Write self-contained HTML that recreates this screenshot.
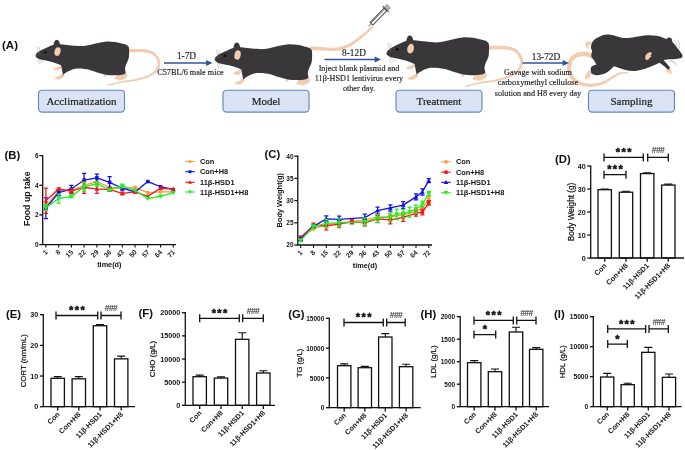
<!DOCTYPE html>
<html><head><meta charset="utf-8"><title>Figure</title>
<style>html,body{margin:0;padding:0;background:#fff;}body{width:685px;height:450px;overflow:hidden;font-family:"Liberation Sans", sans-serif;}svg{display:block;filter:blur(0.4px)}</style>
</head><body>
<svg width="685" height="450" viewBox="0 0 685 450" font-family='"Liberation Sans", sans-serif' fill="#111">
<rect width="685" height="450" fill="#fff"/>
<g transform="translate(0.00 0.00) scale(1 1)">
<path d="M128.04 52.40 L128.43 52.39 L128.93 52.37 L129.50 52.35 L130.15 52.33 L130.85 52.31 L131.59 52.28 L132.35 52.26 L133.13 52.24 L133.90 52.22 L134.64 52.20 L135.35 52.18 L136.02 52.17 L136.65 52.16 L137.28 52.15 L137.90 52.13 L138.49 52.11 L139.08 52.10 L139.66 52.08 L140.24 52.08 L140.81 52.08 L141.38 52.09 L141.95 52.12 L142.53 52.16 L143.13 52.21 L143.77 52.28 L144.44 52.36 L145.11 52.44 L145.79 52.53 L146.47 52.63 L147.15 52.74 L147.81 52.87 L148.45 53.00 L149.07 53.16 L149.65 53.33 L150.19 53.52 L150.70 53.72 L151.18 53.95 L151.66 54.21 L152.13 54.49 L152.58 54.79 L153.02 55.10 L153.44 55.44 L153.85 55.78 L154.24 56.15 L154.60 56.52 L154.95 56.90 L155.28 57.29 L155.58 57.69 L155.87 58.10 L156.15 58.54 L156.41 58.99 L156.66 59.46 L156.89 59.94 L157.09 60.43 L157.27 60.92 L157.43 61.41 L157.55 61.89 L157.64 62.37 L157.70 62.84 L157.73 63.31 L157.73 63.79 L157.70 64.29 L157.65 64.79 L157.57 65.30 L157.47 65.80 L157.33 66.31 L157.17 66.81 L156.97 67.31 L156.74 67.81 L156.46 68.30 L156.15 68.79 L155.80 69.27 L155.39 69.77 L154.94 70.28 L154.44 70.78 L153.91 71.29 L153.34 71.80 L152.73 72.30 L152.08 72.79 L151.39 73.27 L150.66 73.74 L149.90 74.20 L149.10 74.64 L148.26 75.06 L147.38 75.47 L146.42 75.86 L145.40 76.24 L144.32 76.61 L143.21 76.97 L142.07 77.32 L140.90 77.65 L139.72 77.97 L138.55 78.28 L137.38 78.57 L136.23 78.85 L135.11 79.12 L134.02 79.36 L132.94 79.57 L131.87 79.76 L130.80 79.92 L129.72 80.07 L128.63 80.22 L127.54 80.36 L126.43 80.51 L125.31 80.67 L124.18 80.84 L123.03 81.04 L121.86 81.26 L120.63 81.51 L119.31 81.80 L117.93 82.11 L116.51 82.44 L115.08 82.78 L113.67 83.11 L112.30 83.44 L111.01 83.76 L109.83 84.05 L108.77 84.32 L107.88 84.54 L107.17 84.72 L107.43 85.88 L108.15 85.73 L109.06 85.54 L110.12 85.30 L111.31 85.03 L112.61 84.74 L113.97 84.44 L115.38 84.12 L116.81 83.81 L118.23 83.51 L119.61 83.23 L120.92 82.97 L122.14 82.74 L123.28 82.55 L124.41 82.39 L125.53 82.24 L126.63 82.11 L127.73 81.99 L128.83 81.87 L129.93 81.74 L131.03 81.61 L132.13 81.47 L133.24 81.30 L134.36 81.10 L135.49 80.88 L136.64 80.63 L137.80 80.37 L138.99 80.10 L140.19 79.81 L141.40 79.50 L142.60 79.18 L143.78 78.85 L144.93 78.50 L146.06 78.13 L147.14 77.75 L148.17 77.35 L149.14 76.94 L150.05 76.50 L150.93 76.05 L151.77 75.57 L152.57 75.07 L153.33 74.56 L154.06 74.04 L154.75 73.51 L155.40 72.96 L156.01 72.41 L156.58 71.85 L157.11 71.29 L157.60 70.73 L158.06 70.14 L158.47 69.54 L158.83 68.93 L159.15 68.30 L159.42 67.67 L159.65 67.04 L159.84 66.41 L160.00 65.78 L160.11 65.15 L160.20 64.52 L160.25 63.91 L160.27 63.29 L160.25 62.66 L160.19 62.01 L160.09 61.37 L159.95 60.74 L159.77 60.11 L159.57 59.50 L159.33 58.89 L159.07 58.30 L158.79 57.72 L158.48 57.17 L158.16 56.63 L157.82 56.11 L157.46 55.61 L157.07 55.11 L156.65 54.63 L156.22 54.17 L155.75 53.71 L155.27 53.28 L154.76 52.86 L154.23 52.46 L153.68 52.08 L153.11 51.72 L152.52 51.39 L151.90 51.08 L151.25 50.79 L150.57 50.54 L149.87 50.32 L149.15 50.13 L148.42 49.96 L147.69 49.81 L146.96 49.68 L146.23 49.56 L145.51 49.45 L144.81 49.36 L144.13 49.27 L143.47 49.19 L142.81 49.11 L142.15 49.06 L141.51 49.02 L140.87 48.99 L140.25 48.98 L139.64 48.98 L139.03 48.98 L138.42 48.99 L137.82 49.00 L137.22 49.01 L136.61 49.02 L135.98 49.03 L135.31 49.03 L134.59 49.04 L133.83 49.05 L133.05 49.07 L132.27 49.08 L131.50 49.10 L130.75 49.12 L130.05 49.14 L129.40 49.16 L128.83 49.18 L128.34 49.19 L127.96 49.20 Z" fill="#f2cbb0"/>
<path d="M62.4 73.6 L59 76 L55.6 77.4 L54.8 78.6 L56.2 79.4 L58 78.7 L57.8 79.7 L60 79.2 L63 77.6 L64.6 75.6 Z" fill="#f2cbb0"/>
<path d="M60.6 65.4 L57.6 67 L54.4 68.2 L53.4 69.4 L54.6 70.2 L56.4 69.6 L56.6 70.6 L59 69.8 L61.8 68 Z" fill="#f2cbb0"/>
<path d="M120 73 L116 76.4 L114 78 L115 79.6 L118 79 L117.6 80.4 L121 80.2 L125 78.6 L127.4 76 L126.4 73 Z" fill="#f2cbb0"/>
<path d="M104.5 74 L103.2 75.8 L104.6 76.8 L106.6 76 L107 74.4 Z" fill="#f2cbb0"/>
<path d="M35.3 54.9 C36.6 53 38.6 51.6 41 50.3 C44.6 48.6 49 46.4 53.6 44.7 C54 42.4 54.6 39.9 56.7 39.8 C58.8 39.8 59.6 42 59.9 44.2 C63 44.4 70 45.4 75.6 45.8 C78.6 46.1 81 46.2 83.6 46 C88 45.4 91.6 44.2 95.6 43.4 C99 42.6 102 42 105 41.7 C110 41.2 116 42 120.7 43.3 C123.4 43.8 126 44.4 127.4 45.4 C128.6 46.2 129.2 47.6 129.1 49 C129.3 52 129.2 55 128.8 58 C128.3 60.6 126.8 62.6 126 64.7 C125.6 66 125 67.4 125 68.7 C125 70.2 125.6 71.6 125.7 72.7 C125 74 123.6 74.6 122 74.8 C119 75.4 116 75.4 114 75.3 C111 75.3 108 75.1 106 74.7 C103 74.2 100.6 73.4 98 72.7 C95 71.8 92.6 70.8 90 70 C86 69 80 68.4 75.6 68.7 C72 69.2 68 71 64.6 73.4 C64 74.2 63.6 74.8 63 74.8 C62.6 73 62.3 71.4 62 70 C61.8 68.4 61.5 66.6 61 65.3 C59 64.4 57 63.6 55 63 C53 62.3 51 61.8 49 61.3 C47 60.8 45 60.4 43 60 C41.4 59.7 39.6 59.5 38.4 58.8 C37 58 36 57.4 35.6 56.6 C35.3 56 35.2 55.4 35.3 54.9 Z" fill="#39373a"/>
<circle cx="35.5" cy="55.2" r="0.7" fill="#f2cbb0"/>
<ellipse cx="57.5" cy="51.6" rx="3.0" ry="4.4" fill="#f2cbb0" transform="rotate(14 57.5 51.6)"/>
<ellipse cx="45.3" cy="52.3" rx="1.5" ry="1.1" fill="#0a0a0a"/>
<path d="M38.6 54.4 L37 46.4 M39.4 54 L39.6 46.8 M38 59.4 L39.4 64.6 M39.6 59.6 L42 64 M41.4 59.6 L44 62.6" stroke="#777" stroke-width="0.32" fill="none"/>
</g>
<g transform="translate(177.78 0.30) scale(1.04 1.06)">
<path d="M126.98 46.70 L127.31 46.72 L127.73 46.75 L128.22 46.78 L128.77 46.82 L129.38 46.87 L130.01 46.91 L130.67 46.96 L131.34 47.00 L132.01 47.05 L132.67 47.09 L133.30 47.13 L133.89 47.17 L134.43 47.20 L134.95 47.24 L135.46 47.27 L135.96 47.30 L136.46 47.33 L136.96 47.36 L137.48 47.39 L138.02 47.42 L138.59 47.45 L139.19 47.47 L139.84 47.50 L140.53 47.52 L141.26 47.55 L142.05 47.59 L142.89 47.64 L143.77 47.70 L144.69 47.75 L145.63 47.80 L146.59 47.83 L147.55 47.86 L148.52 47.87 L149.48 47.86 L150.42 47.82 L151.33 47.75 L152.22 47.65 L153.09 47.54 L153.96 47.40 L154.82 47.24 L155.67 47.07 L156.51 46.88 L157.34 46.68 L158.16 46.46 L158.96 46.24 L159.75 46.00 L160.52 45.75 L161.28 45.49 L162.01 45.22 L162.73 44.94 L163.42 44.64 L164.10 44.34 L164.76 44.02 L165.41 43.69 L166.05 43.35 L166.68 43.00 L167.31 42.63 L167.94 42.26 L168.58 41.87 L169.22 41.46 L169.89 41.03 L170.57 40.57 L171.25 40.08 L171.93 39.58 L172.60 39.07 L173.27 38.55 L173.93 38.03 L174.58 37.52 L175.21 37.01 L175.82 36.52 L176.41 36.04 L176.97 35.59 L177.52 35.16 L178.04 34.73 L178.54 34.32 L179.03 33.92 L179.50 33.52 L179.96 33.13 L180.42 32.74 L180.86 32.35 L181.31 31.96 L181.75 31.56 L182.20 31.16 L182.65 30.75 L183.13 30.31 L183.62 29.85 L184.13 29.36 L184.64 28.86 L185.15 28.37 L185.65 27.88 L186.12 27.41 L186.57 26.96 L186.98 26.55 L187.34 26.18 L187.64 25.87 L187.89 25.62 L186.51 24.18 L186.25 24.41 L185.92 24.71 L185.54 25.06 L185.11 25.45 L184.65 25.88 L184.17 26.33 L183.66 26.80 L183.14 27.28 L182.63 27.75 L182.11 28.21 L181.62 28.64 L181.15 29.05 L180.69 29.44 L180.24 29.81 L179.79 30.19 L179.34 30.55 L178.89 30.92 L178.44 31.28 L177.97 31.65 L177.50 32.02 L177.01 32.40 L176.50 32.79 L175.98 33.19 L175.43 33.61 L174.85 34.05 L174.24 34.51 L173.62 34.99 L172.98 35.47 L172.33 35.97 L171.68 36.46 L171.02 36.95 L170.35 37.43 L169.70 37.89 L169.04 38.33 L168.40 38.75 L167.78 39.14 L167.15 39.51 L166.53 39.87 L165.93 40.21 L165.32 40.54 L164.73 40.86 L164.13 41.16 L163.53 41.44 L162.92 41.72 L162.29 41.98 L161.66 42.24 L161.00 42.48 L160.32 42.71 L159.62 42.94 L158.89 43.16 L158.15 43.37 L157.39 43.57 L156.63 43.75 L155.85 43.93 L155.06 44.09 L154.27 44.24 L153.47 44.37 L152.67 44.48 L151.87 44.58 L151.07 44.65 L150.26 44.70 L149.41 44.72 L148.53 44.72 L147.63 44.70 L146.72 44.67 L145.79 44.62 L144.88 44.56 L143.98 44.50 L143.10 44.43 L142.25 44.37 L141.43 44.32 L140.67 44.28 L139.98 44.24 L139.35 44.21 L138.76 44.17 L138.21 44.14 L137.68 44.10 L137.18 44.06 L136.68 44.03 L136.19 43.99 L135.69 43.95 L135.19 43.91 L134.66 43.87 L134.11 43.83 L133.53 43.79 L132.91 43.74 L132.25 43.69 L131.59 43.64 L130.92 43.59 L130.26 43.54 L129.63 43.49 L129.03 43.44 L128.47 43.40 L127.98 43.36 L127.56 43.33 L127.22 43.30 Z" fill="#f2cbb0"/>
<path d="M62.4 73.6 L59 76 L55.6 77.4 L54.8 78.6 L56.2 79.4 L58 78.7 L57.8 79.7 L60 79.2 L63 77.6 L64.6 75.6 Z" fill="#f2cbb0"/>
<path d="M60.6 65.4 L57.6 67 L54.4 68.2 L53.4 69.4 L54.6 70.2 L56.4 69.6 L56.6 70.6 L59 69.8 L61.8 68 Z" fill="#f2cbb0"/>
<path d="M120 73 L116 76.4 L114 78 L115 79.6 L118 79 L117.6 80.4 L121 80.2 L125 78.6 L127.4 76 L126.4 73 Z" fill="#f2cbb0"/>
<path d="M104.5 74 L103.2 75.8 L104.6 76.8 L106.6 76 L107 74.4 Z" fill="#f2cbb0"/>
<path d="M35.3 54.9 C36.6 53 38.6 51.6 41 50.3 C44.6 48.6 49 46.4 53.6 44.7 C54 42.4 54.6 39.9 56.7 39.8 C58.8 39.8 59.6 42 59.9 44.2 C63 44.4 70 45.4 75.6 45.8 C78.6 46.1 81 46.2 83.6 46 C88 45.4 91.6 44.2 95.6 43.4 C99 42.6 102 42 105 41.7 C110 41.2 116 42 120.7 43.3 C123.4 43.8 126 44.4 127.4 45.4 C128.6 46.2 129.2 47.6 129.1 49 C129.3 52 129.2 55 128.8 58 C128.3 60.6 126.8 62.6 126 64.7 C125.6 66 125 67.4 125 68.7 C125 70.2 125.6 71.6 125.7 72.7 C125 74 123.6 74.6 122 74.8 C119 75.4 116 75.4 114 75.3 C111 75.3 108 75.1 106 74.7 C103 74.2 100.6 73.4 98 72.7 C95 71.8 92.6 70.8 90 70 C86 69 80 68.4 75.6 68.7 C72 69.2 68 71 64.6 73.4 C64 74.2 63.6 74.8 63 74.8 C62.6 73 62.3 71.4 62 70 C61.8 68.4 61.5 66.6 61 65.3 C59 64.4 57 63.6 55 63 C53 62.3 51 61.8 49 61.3 C47 60.8 45 60.4 43 60 C41.4 59.7 39.6 59.5 38.4 58.8 C37 58 36 57.4 35.6 56.6 C35.3 56 35.2 55.4 35.3 54.9 Z" fill="#39373a"/>
<circle cx="35.5" cy="55.2" r="0.7" fill="#f2cbb0"/>
<ellipse cx="57.5" cy="51.6" rx="3.0" ry="4.4" fill="#f2cbb0" transform="rotate(14 57.5 51.6)"/>
<ellipse cx="45.3" cy="52.3" rx="1.5" ry="1.1" fill="#0a0a0a"/>
<path d="M38.6 54.4 L37 46.4 M39.4 54 L39.6 46.8 M38 59.4 L39.4 64.6 M39.6 59.6 L42 64 M41.4 59.6 L44 62.6" stroke="#777" stroke-width="0.32" fill="none"/>
</g>
<g transform="translate(347.64 -9.20) scale(1.095 1.12)">
<path d="M128.04 52.40 L128.43 52.39 L128.93 52.37 L129.50 52.35 L130.15 52.33 L130.85 52.31 L131.59 52.28 L132.35 52.26 L133.13 52.24 L133.90 52.22 L134.64 52.20 L135.35 52.18 L136.02 52.17 L136.65 52.16 L137.28 52.15 L137.90 52.13 L138.49 52.11 L139.08 52.10 L139.66 52.08 L140.24 52.08 L140.81 52.08 L141.38 52.09 L141.95 52.12 L142.53 52.16 L143.13 52.21 L143.77 52.28 L144.44 52.36 L145.11 52.44 L145.79 52.53 L146.47 52.63 L147.15 52.74 L147.81 52.87 L148.45 53.00 L149.07 53.16 L149.65 53.33 L150.19 53.52 L150.70 53.72 L151.18 53.95 L151.66 54.21 L152.13 54.49 L152.58 54.79 L153.02 55.10 L153.44 55.44 L153.85 55.78 L154.24 56.15 L154.60 56.52 L154.95 56.90 L155.28 57.29 L155.58 57.69 L155.87 58.10 L156.15 58.54 L156.41 58.99 L156.66 59.46 L156.89 59.94 L157.09 60.43 L157.27 60.92 L157.43 61.41 L157.55 61.89 L157.64 62.37 L157.70 62.84 L157.73 63.31 L157.73 63.79 L157.70 64.29 L157.65 64.79 L157.57 65.30 L157.47 65.80 L157.33 66.31 L157.17 66.81 L156.97 67.31 L156.74 67.81 L156.46 68.30 L156.15 68.79 L155.80 69.27 L155.39 69.77 L154.94 70.28 L154.44 70.78 L153.91 71.29 L153.34 71.80 L152.73 72.30 L152.08 72.79 L151.39 73.27 L150.66 73.74 L149.90 74.20 L149.10 74.64 L148.26 75.06 L147.38 75.47 L146.42 75.86 L145.40 76.24 L144.32 76.61 L143.21 76.97 L142.07 77.32 L140.90 77.65 L139.72 77.97 L138.55 78.28 L137.38 78.57 L136.23 78.85 L135.11 79.12 L134.02 79.36 L132.94 79.57 L131.87 79.76 L130.80 79.92 L129.72 80.07 L128.63 80.22 L127.54 80.36 L126.43 80.51 L125.31 80.67 L124.18 80.84 L123.03 81.04 L121.86 81.26 L120.63 81.51 L119.31 81.80 L117.93 82.11 L116.51 82.44 L115.08 82.78 L113.67 83.11 L112.30 83.44 L111.01 83.76 L109.83 84.05 L108.77 84.32 L107.88 84.54 L107.17 84.72 L107.43 85.88 L108.15 85.73 L109.06 85.54 L110.12 85.30 L111.31 85.03 L112.61 84.74 L113.97 84.44 L115.38 84.12 L116.81 83.81 L118.23 83.51 L119.61 83.23 L120.92 82.97 L122.14 82.74 L123.28 82.55 L124.41 82.39 L125.53 82.24 L126.63 82.11 L127.73 81.99 L128.83 81.87 L129.93 81.74 L131.03 81.61 L132.13 81.47 L133.24 81.30 L134.36 81.10 L135.49 80.88 L136.64 80.63 L137.80 80.37 L138.99 80.10 L140.19 79.81 L141.40 79.50 L142.60 79.18 L143.78 78.85 L144.93 78.50 L146.06 78.13 L147.14 77.75 L148.17 77.35 L149.14 76.94 L150.05 76.50 L150.93 76.05 L151.77 75.57 L152.57 75.07 L153.33 74.56 L154.06 74.04 L154.75 73.51 L155.40 72.96 L156.01 72.41 L156.58 71.85 L157.11 71.29 L157.60 70.73 L158.06 70.14 L158.47 69.54 L158.83 68.93 L159.15 68.30 L159.42 67.67 L159.65 67.04 L159.84 66.41 L160.00 65.78 L160.11 65.15 L160.20 64.52 L160.25 63.91 L160.27 63.29 L160.25 62.66 L160.19 62.01 L160.09 61.37 L159.95 60.74 L159.77 60.11 L159.57 59.50 L159.33 58.89 L159.07 58.30 L158.79 57.72 L158.48 57.17 L158.16 56.63 L157.82 56.11 L157.46 55.61 L157.07 55.11 L156.65 54.63 L156.22 54.17 L155.75 53.71 L155.27 53.28 L154.76 52.86 L154.23 52.46 L153.68 52.08 L153.11 51.72 L152.52 51.39 L151.90 51.08 L151.25 50.79 L150.57 50.54 L149.87 50.32 L149.15 50.13 L148.42 49.96 L147.69 49.81 L146.96 49.68 L146.23 49.56 L145.51 49.45 L144.81 49.36 L144.13 49.27 L143.47 49.19 L142.81 49.11 L142.15 49.06 L141.51 49.02 L140.87 48.99 L140.25 48.98 L139.64 48.98 L139.03 48.98 L138.42 48.99 L137.82 49.00 L137.22 49.01 L136.61 49.02 L135.98 49.03 L135.31 49.03 L134.59 49.04 L133.83 49.05 L133.05 49.07 L132.27 49.08 L131.50 49.10 L130.75 49.12 L130.05 49.14 L129.40 49.16 L128.83 49.18 L128.34 49.19 L127.96 49.20 Z" fill="#f2cbb0"/>
<path d="M62.4 73.6 L59 76 L55.6 77.4 L54.8 78.6 L56.2 79.4 L58 78.7 L57.8 79.7 L60 79.2 L63 77.6 L64.6 75.6 Z" fill="#f2cbb0"/>
<path d="M60.6 65.4 L57.6 67 L54.4 68.2 L53.4 69.4 L54.6 70.2 L56.4 69.6 L56.6 70.6 L59 69.8 L61.8 68 Z" fill="#f2cbb0"/>
<path d="M120 73 L116 76.4 L114 78 L115 79.6 L118 79 L117.6 80.4 L121 80.2 L125 78.6 L127.4 76 L126.4 73 Z" fill="#f2cbb0"/>
<path d="M104.5 74 L103.2 75.8 L104.6 76.8 L106.6 76 L107 74.4 Z" fill="#f2cbb0"/>
<path d="M35.3 54.9 C36.6 53 38.6 51.6 41 50.3 C44.6 48.6 49 46.4 53.6 44.7 C54 42.4 54.6 39.9 56.7 39.8 C58.8 39.8 59.6 42 59.9 44.2 C63 44.4 70 45.4 75.6 45.8 C78.6 46.1 81 46.2 83.6 46 C88 45.4 91.6 44.2 95.6 43.4 C99 42.6 102 42 105 41.7 C110 41.2 116 42 120.7 43.3 C123.4 43.8 126 44.4 127.4 45.4 C128.6 46.2 129.2 47.6 129.1 49 C129.3 52 129.2 55 128.8 58 C128.3 60.6 126.8 62.6 126 64.7 C125.6 66 125 67.4 125 68.7 C125 70.2 125.6 71.6 125.7 72.7 C125 74 123.6 74.6 122 74.8 C119 75.4 116 75.4 114 75.3 C111 75.3 108 75.1 106 74.7 C103 74.2 100.6 73.4 98 72.7 C95 71.8 92.6 70.8 90 70 C86 69 80 68.4 75.6 68.7 C72 69.2 68 71 64.6 73.4 C64 74.2 63.6 74.8 63 74.8 C62.6 73 62.3 71.4 62 70 C61.8 68.4 61.5 66.6 61 65.3 C59 64.4 57 63.6 55 63 C53 62.3 51 61.8 49 61.3 C47 60.8 45 60.4 43 60 C41.4 59.7 39.6 59.5 38.4 58.8 C37 58 36 57.4 35.6 56.6 C35.3 56 35.2 55.4 35.3 54.9 Z" fill="#39373a"/>
<circle cx="35.5" cy="55.2" r="0.7" fill="#f2cbb0"/>
<ellipse cx="57.5" cy="51.6" rx="3.0" ry="4.4" fill="#f2cbb0" transform="rotate(14 57.5 51.6)"/>
<ellipse cx="45.3" cy="52.3" rx="1.5" ry="1.1" fill="#0a0a0a"/>
<path d="M38.6 54.4 L37 46.4 M39.4 54 L39.6 46.8 M38 59.4 L39.4 64.6 M39.6 59.6 L42 64 M41.4 59.6 L44 62.6" stroke="#777" stroke-width="0.32" fill="none"/>
</g>
<path d="M593.85 54.16 L593.63 54.07 L593.36 53.97 L593.02 53.83 L592.62 53.67 L592.18 53.50 L591.71 53.31 L591.21 53.12 L590.69 52.94 L590.16 52.75 L589.62 52.58 L589.08 52.43 L588.55 52.30 L588.09 52.20 L587.64 52.10 L587.17 52.01 L586.70 51.92 L586.20 51.83 L585.70 51.76 L585.17 51.70 L584.63 51.66 L584.07 51.63 L583.49 51.63 L582.89 51.66 L582.30 51.71 L581.71 51.78 L581.11 51.85 L580.48 51.95 L579.82 52.06 L579.15 52.18 L578.47 52.34 L577.77 52.51 L577.08 52.71 L576.39 52.95 L575.71 53.22 L575.03 53.53 L574.39 53.89 L573.80 54.27 L573.24 54.66 L572.69 55.09 L572.16 55.55 L571.64 56.03 L571.15 56.54 L570.68 57.07 L570.23 57.62 L569.81 58.20 L569.42 58.80 L569.05 59.42 L568.73 60.06 L568.43 60.70 L568.16 61.37 L567.91 62.06 L567.69 62.77 L567.49 63.50 L567.32 64.24 L567.18 65.01 L567.07 65.78 L567.00 66.57 L566.97 67.36 L566.98 68.16 L567.04 68.95 L567.13 69.73 L567.24 70.52 L567.39 71.33 L567.57 72.15 L567.78 72.99 L568.04 73.83 L568.34 74.67 L568.68 75.50 L569.07 76.32 L569.51 77.12 L570.02 77.90 L570.58 78.64 L571.19 79.33 L571.86 80.00 L572.58 80.64 L573.34 81.25 L574.14 81.83 L574.96 82.39 L575.81 82.92 L576.68 83.41 L577.55 83.87 L578.43 84.30 L579.31 84.69 L580.18 85.04 L581.06 85.36 L581.94 85.64 L582.84 85.89 L583.74 86.11 L584.66 86.29 L585.59 86.44 L586.52 86.56 L587.47 86.65 L588.43 86.71 L589.40 86.73 L590.37 86.72 L591.36 86.68 L592.38 86.61 L593.44 86.49 L594.51 86.34 L595.61 86.15 L596.71 85.93 L597.81 85.68 L598.90 85.42 L599.97 85.13 L601.02 84.82 L602.04 84.50 L603.02 84.16 L603.95 83.81 L604.86 83.44 L605.73 83.02 L606.57 82.57 L607.37 82.10 L608.14 81.62 L608.87 81.14 L609.58 80.65 L610.27 80.17 L610.94 79.70 L611.59 79.26 L612.22 78.84 L612.86 78.44 L613.50 78.05 L614.11 77.64 L614.70 77.25 L615.26 76.86 L615.80 76.49 L616.33 76.13 L616.85 75.79 L617.37 75.47 L617.89 75.18 L618.42 74.91 L618.98 74.66 L619.56 74.44 L620.19 74.25 L620.90 74.08 L621.68 73.94 L622.49 73.81 L623.32 73.71 L624.15 73.62 L624.95 73.54 L625.72 73.48 L626.44 73.42 L627.08 73.36 L627.63 73.31 L628.06 73.25 L627.94 71.95 L627.52 71.97 L626.99 71.99 L626.36 72.00 L625.64 72.03 L624.86 72.05 L624.03 72.09 L623.17 72.15 L622.30 72.22 L621.44 72.31 L620.60 72.43 L619.79 72.58 L619.04 72.76 L618.35 72.98 L617.69 73.23 L617.06 73.51 L616.45 73.81 L615.86 74.13 L615.28 74.46 L614.71 74.80 L614.15 75.15 L613.57 75.50 L612.99 75.85 L612.39 76.20 L611.74 76.56 L611.06 76.94 L610.37 77.36 L609.67 77.79 L608.98 78.24 L608.28 78.68 L607.58 79.13 L606.86 79.56 L606.13 79.98 L605.39 80.37 L604.63 80.74 L603.86 81.08 L603.05 81.39 L602.18 81.68 L601.25 81.96 L600.28 82.24 L599.27 82.50 L598.25 82.74 L597.21 82.97 L596.16 83.17 L595.13 83.34 L594.11 83.49 L593.11 83.60 L592.15 83.68 L591.24 83.72 L590.35 83.72 L589.47 83.70 L588.60 83.65 L587.75 83.57 L586.91 83.47 L586.09 83.33 L585.28 83.17 L584.48 82.98 L583.70 82.77 L582.92 82.52 L582.16 82.25 L581.42 81.96 L580.66 81.63 L579.90 81.26 L579.14 80.86 L578.37 80.43 L577.63 79.97 L576.90 79.49 L576.20 78.99 L575.54 78.47 L574.92 77.94 L574.36 77.41 L573.86 76.88 L573.42 76.36 L573.05 75.83 L572.71 75.27 L572.40 74.66 L572.12 74.03 L571.88 73.37 L571.66 72.70 L571.48 72.01 L571.32 71.32 L571.19 70.62 L571.09 69.94 L571.01 69.28 L570.96 68.65 L570.94 68.06 L570.95 67.47 L571.00 66.88 L571.07 66.29 L571.17 65.70 L571.29 65.12 L571.44 64.54 L571.62 63.98 L571.81 63.44 L572.02 62.91 L572.24 62.41 L572.47 61.94 L572.72 61.51 L572.99 61.09 L573.28 60.67 L573.59 60.27 L573.92 59.88 L574.27 59.51 L574.64 59.16 L575.02 58.82 L575.41 58.51 L575.81 58.22 L576.21 57.95 L576.61 57.71 L577.00 57.51 L577.42 57.33 L577.89 57.16 L578.39 57.00 L578.91 56.86 L579.46 56.74 L580.02 56.63 L580.58 56.54 L581.14 56.46 L581.68 56.39 L582.21 56.34 L582.70 56.29 L583.13 56.27 L583.53 56.26 L583.92 56.27 L584.30 56.30 L584.68 56.34 L585.05 56.39 L585.43 56.45 L585.82 56.53 L586.22 56.61 L586.62 56.71 L587.04 56.80 L587.45 56.90 L587.83 57.00 L588.22 57.12 L588.64 57.26 L589.08 57.42 L589.53 57.59 L589.98 57.76 L590.41 57.94 L590.82 58.11 L591.21 58.27 L591.56 58.41 L591.89 58.54 L592.15 58.64 Z" fill="#f2cbb0"/>
<path d="M593.5 42.6 L589 41.4 L586.2 42 L585 44 L586.4 46.6 L587 48.8 L588.6 48.6 L588.6 45.6 L590 44.6 L593 46.6 Z" fill="#f2cbb0"/>
<path d="M592 70.6 L588 71.6 L585.6 75 L584.8 79 L586.4 79.8 L587.6 77 L588.4 79.6 L589.8 79 L589.6 75.6 L592.6 73.6 Z" fill="#f2cbb0"/>
<path d="M668.6 67.4 L671 69.6 L672 73.6 L670.8 74.4 L669.4 72 L668.4 73.4 L667 72 L666 68.8 Z" fill="#f2cbb0"/>
<path d="M592.7 41.6 C594 39.6 596 38.2 598.3 37.3 C601 35.8 604 34.8 607 34.6 C610 34.6 613 35.2 615.8 35.9 C619 36.8 621.6 37.9 624.5 38.1 C628 38.2 631.6 37.4 635 36.9 C639 36.2 643 35.4 647.3 35.2 C651 35.1 654.6 35.3 657.8 35.9 C661 36.6 664 37.8 666.4 39.2 C667.2 38 668.4 37.4 669.7 37.6 C671.6 38 672.6 39.8 672.2 41.8 C674 43.4 675.6 45.4 677.1 47.8 C679 50 681 52.4 682.3 54.8 C682.8 56 682.6 57.4 681.5 57.9 C678 58.8 674 59 670.1 59.2 C668 59.4 665.6 59.6 663.6 60 C666 62.6 668.4 65.2 670.2 67.8 L668.2 69.8 C665.4 67.2 662.6 64.8 659.6 62.7 C655.6 64.6 651.6 66.4 647.3 67.9 C643.4 69.2 639 70.4 635 70.9 C631.4 71 628 70.6 624.5 69.7 C621 68.8 617.4 67.4 614 66.2 C612.6 67.2 611.6 68.4 610.5 69.7 C608.4 71.6 606 73 603.5 74 C600.6 75 597.6 75.6 594.8 74.9 C592.6 74.4 591 73.2 590.9 71.4 C590.6 69.8 590.6 68.2 591.3 67 C592.4 65.4 594.6 65 596.5 64.4 C595.6 63 594.6 61.6 593.9 60 C592.8 58.8 591.8 57.8 591.3 56.5 C591 54.8 591.8 53 592.1 51.3 C592 50 591 49 590.9 47.8 C591 45.6 591.8 43.4 592.7 41.6 Z" fill="#39373a"/>
<path d="M645.6 55.6 C646.4 53.4 648.6 52 651 52.2 L652 53.8 L650.6 55.2 L651.4 57 L649.4 57.8 L648.6 59.8 L646.4 60 L645 58.2 Z" fill="#f2cbb0"/>
<path d="M674.6 40 C676 42.6 676.8 45 676.6 47.6 M677.6 39.6 C679.4 42.6 680.2 46 679.6 49.4 M668.6 61.6 C671 61 673.6 61.6 675.6 63 M671 60 C673.4 61.4 675.6 63.6 676.8 66.2" stroke="#777" stroke-width="0.32" fill="none"/>
<g transform="translate(369 26.4) rotate(-46)"><line x1="0" y1="0" x2="4" y2="0" stroke="#666" stroke-width="0.9"/><rect x="3.6" y="-1.9" width="20" height="3.8" fill="#f0f0f0" stroke="#444" stroke-width="0.95"/><line x1="4" y1="-0.9" x2="23" y2="-0.9" stroke="#555" stroke-width="0.7"/><rect x="23.4" y="-3.9" width="1.4" height="7.8" fill="#555"/><rect x="25.6" y="-2.5" width="2.6" height="5" rx="0.8" fill="#bbb" stroke="#666" stroke-width="0.7"/></g>
<text x="2" y="49" font-size="11.5" font-weight="bold">(A)</text>
<rect x="38.5" y="90.2" width="86.0" height="21.89999999999999" rx="3.6" ry="3.6" fill="#dae3f3" stroke="#6585c2" stroke-width="1.15"/>
<text x="81.5" y="104.75" font-family='"Liberation Serif", serif' font-size="11" text-anchor="middle" fill="#1c1c1c" stroke="#1c1c1c" stroke-width="0.2">Acclimatization</text>
<rect x="223" y="90.2" width="86" height="21.89999999999999" rx="3.6" ry="3.6" fill="#dae3f3" stroke="#6585c2" stroke-width="1.15"/>
<text x="266.0" y="104.75" font-family='"Liberation Serif", serif' font-size="11" text-anchor="middle" fill="#1c1c1c" stroke="#1c1c1c" stroke-width="0.2">Model</text>
<rect x="396" y="90.2" width="86" height="21.89999999999999" rx="3.6" ry="3.6" fill="#dae3f3" stroke="#6585c2" stroke-width="1.15"/>
<text x="439.0" y="104.75" font-family='"Liberation Serif", serif' font-size="11" text-anchor="middle" fill="#1c1c1c" stroke="#1c1c1c" stroke-width="0.2">Treatment</text>
<rect x="588.5" y="90.2" width="86.0" height="21.89999999999999" rx="3.6" ry="3.6" fill="#dae3f3" stroke="#6585c2" stroke-width="1.15"/>
<text x="631.5" y="104.75" font-family='"Liberation Serif", serif' font-size="11" text-anchor="middle" fill="#1c1c1c" stroke="#1c1c1c" stroke-width="0.2">Sampling</text>
<line x1="164" y1="63" x2="208.5" y2="63" stroke="#2f5597" stroke-width="1.6"/>
<path d="M212.5 63 L206.1 59.9 L206.1 66.1 Z" fill="#2f5597"/>
<line x1="324.5" y1="59.5" x2="377" y2="59.5" stroke="#2f5597" stroke-width="1.6"/>
<path d="M381 59.5 L374.6 56.4 L374.6 62.6 Z" fill="#2f5597"/>
<line x1="522.5" y1="63" x2="565" y2="63" stroke="#2f5597" stroke-width="1.6"/>
<path d="M569 63 L562.6 59.9 L562.6 66.1 Z" fill="#2f5597"/>
<text x="186.5" y="58.5" font-family='"Liberation Serif", serif' font-size="9.3" text-anchor="middle" fill="#1c1c1c" stroke="#1c1c1c" stroke-width="0.15">1-7D</text>
<text x="190.5" y="75" font-family='"Liberation Serif", serif' font-size="8.2" text-anchor="middle" fill="#1c1c1c" stroke="#1c1c1c" stroke-width="0.15">C57BL/6 male mice</text>
<text x="354" y="55.5" font-family='"Liberation Serif", serif' font-size="9.3" text-anchor="middle" fill="#1c1c1c" stroke="#1c1c1c" stroke-width="0.15">8-12D</text>
<text x="359" y="70.5" font-family='"Liberation Serif", serif' font-size="8.2" text-anchor="middle" fill="#1c1c1c" stroke="#1c1c1c" stroke-width="0.15">Inject blank plasmid and</text>
<text x="359" y="80.5" font-family='"Liberation Serif", serif' font-size="8.2" text-anchor="middle" fill="#1c1c1c" stroke="#1c1c1c" stroke-width="0.15">11β-HSD1 lentivirus every</text>
<text x="359" y="90.5" font-family='"Liberation Serif", serif' font-size="8.2" text-anchor="middle" fill="#1c1c1c" stroke="#1c1c1c" stroke-width="0.15">other day.</text>
<text x="546" y="59.5" font-family='"Liberation Serif", serif' font-size="9.3" text-anchor="middle" fill="#1c1c1c" stroke="#1c1c1c" stroke-width="0.15">13-72D</text>
<text x="538" y="74.5" font-family='"Liberation Serif", serif' font-size="8.2" text-anchor="middle" fill="#1c1c1c" stroke="#1c1c1c" stroke-width="0.15">Gavage with sodium</text>
<text x="538" y="85" font-family='"Liberation Serif", serif' font-size="8.2" text-anchor="middle" fill="#1c1c1c" stroke="#1c1c1c" stroke-width="0.15">carboxymethyl cellulose</text>
<text x="538" y="95.5" font-family='"Liberation Serif", serif' font-size="8.2" text-anchor="middle" fill="#1c1c1c" stroke="#1c1c1c" stroke-width="0.15">solution and H8 every day</text>
<text x="4.5" y="159" font-size="11.3" font-weight="bold">(B)</text>
<path d="M42.7 155.0 V244.6 M42.1 244.6 H176" stroke="#111" stroke-width="1.3" fill="none"/>
<line x1="39.300000000000004" y1="244.60" x2="42.7" y2="244.60" stroke="#111" stroke-width="1.3"/>
<text x="38.5" y="247.05" font-size="6.5" font-weight="bold" text-anchor="end">0</text>
<line x1="39.300000000000004" y1="214.93" x2="42.7" y2="214.93" stroke="#111" stroke-width="1.3"/>
<text x="38.5" y="217.38" font-size="6.5" font-weight="bold" text-anchor="end">2</text>
<line x1="39.300000000000004" y1="185.27" x2="42.7" y2="185.27" stroke="#111" stroke-width="1.3"/>
<text x="38.5" y="187.72" font-size="6.5" font-weight="bold" text-anchor="end">4</text>
<line x1="39.300000000000004" y1="155.60" x2="42.7" y2="155.60" stroke="#111" stroke-width="1.3"/>
<text x="38.5" y="158.05" font-size="6.5" font-weight="bold" text-anchor="end">6</text>
<line x1="45.9" y1="244.6" x2="45.9" y2="247.6" stroke="#111" stroke-width="1.1"/>
<text transform="translate(48.10 252.60) rotate(-45)" text-anchor="end" font-size="6.8" font-weight="bold" fill="#1a1a1a">1</text>
<line x1="58.64" y1="244.6" x2="58.64" y2="247.6" stroke="#111" stroke-width="1.1"/>
<text transform="translate(60.84 252.60) rotate(-45)" text-anchor="end" font-size="6.8" font-weight="bold" fill="#1a1a1a">8</text>
<line x1="71.38" y1="244.6" x2="71.38" y2="247.6" stroke="#111" stroke-width="1.1"/>
<text transform="translate(73.58 252.60) rotate(-45)" text-anchor="end" font-size="6.8" font-weight="bold" fill="#1a1a1a">15</text>
<line x1="84.12" y1="244.6" x2="84.12" y2="247.6" stroke="#111" stroke-width="1.1"/>
<text transform="translate(86.32 252.60) rotate(-45)" text-anchor="end" font-size="6.8" font-weight="bold" fill="#1a1a1a">22</text>
<line x1="96.86" y1="244.6" x2="96.86" y2="247.6" stroke="#111" stroke-width="1.1"/>
<text transform="translate(99.06 252.60) rotate(-45)" text-anchor="end" font-size="6.8" font-weight="bold" fill="#1a1a1a">29</text>
<line x1="109.6" y1="244.6" x2="109.6" y2="247.6" stroke="#111" stroke-width="1.1"/>
<text transform="translate(111.80 252.60) rotate(-45)" text-anchor="end" font-size="6.8" font-weight="bold" fill="#1a1a1a">36</text>
<line x1="122.34" y1="244.6" x2="122.34" y2="247.6" stroke="#111" stroke-width="1.1"/>
<text transform="translate(124.54 252.60) rotate(-45)" text-anchor="end" font-size="6.8" font-weight="bold" fill="#1a1a1a">43</text>
<line x1="135.08" y1="244.6" x2="135.08" y2="247.6" stroke="#111" stroke-width="1.1"/>
<text transform="translate(137.28 252.60) rotate(-45)" text-anchor="end" font-size="6.8" font-weight="bold" fill="#1a1a1a">50</text>
<line x1="147.82" y1="244.6" x2="147.82" y2="247.6" stroke="#111" stroke-width="1.1"/>
<text transform="translate(150.02 252.60) rotate(-45)" text-anchor="end" font-size="6.8" font-weight="bold" fill="#1a1a1a">57</text>
<line x1="160.56" y1="244.6" x2="160.56" y2="247.6" stroke="#111" stroke-width="1.1"/>
<text transform="translate(162.76 252.60) rotate(-45)" text-anchor="end" font-size="6.8" font-weight="bold" fill="#1a1a1a">64</text>
<line x1="173.3" y1="244.6" x2="173.3" y2="247.6" stroke="#111" stroke-width="1.1"/>
<text transform="translate(175.50 252.60) rotate(-45)" text-anchor="end" font-size="6.8" font-weight="bold" fill="#1a1a1a">71</text>
<text transform="translate(30.2 198.7) rotate(-90)" text-anchor="middle" font-size="8.75" font-weight="bold" stroke="#111" stroke-width="0">Food up take</text>
<text x="109.35" y="267" text-anchor="middle" font-size="7.3" font-weight="bold">time(d)</text>
<path d="M45.90 206.03 L58.64 191.20 L71.38 190.46 L84.12 185.27 L96.86 181.56 L109.60 187.49 L122.34 188.97 L135.08 187.49 L147.82 192.68 L160.56 191.94 L173.30 191.94" fill="none" stroke="#ff9a3c" stroke-width="1.3"/>
<path d="M45.90 204.55 V207.52 M43.80 204.55 H48.00 M43.80 207.52 H48.00" stroke="#ff9a3c" stroke-width="1.25" fill="none"/>
<circle cx="45.90" cy="206.03" r="1.90" fill="#ff9a3c"/>
<path d="M58.64 190.01 V192.39 M56.54 190.01 H60.74 M56.54 192.39 H60.74" stroke="#ff9a3c" stroke-width="1.25" fill="none"/>
<circle cx="58.64" cy="191.20" r="1.90" fill="#ff9a3c"/>
<path d="M71.38 189.27 V191.64 M69.28 189.27 H73.48 M69.28 191.64 H73.48" stroke="#ff9a3c" stroke-width="1.25" fill="none"/>
<circle cx="71.38" cy="190.46" r="1.90" fill="#ff9a3c"/>
<path d="M84.12 183.04 V187.49 M82.02 183.04 H86.22 M82.02 187.49 H86.22" stroke="#ff9a3c" stroke-width="1.25" fill="none"/>
<circle cx="84.12" cy="185.27" r="1.90" fill="#ff9a3c"/>
<path d="M96.86 179.33 V183.78 M94.76 179.33 H98.96 M94.76 183.78 H98.96" stroke="#ff9a3c" stroke-width="1.25" fill="none"/>
<circle cx="96.86" cy="181.56" r="1.90" fill="#ff9a3c"/>
<path d="M109.60 186.31 V188.68 M107.50 186.31 H111.70 M107.50 188.68 H111.70" stroke="#ff9a3c" stroke-width="1.25" fill="none"/>
<circle cx="109.60" cy="187.49" r="1.90" fill="#ff9a3c"/>
<circle cx="122.34" cy="188.97" r="1.90" fill="#ff9a3c"/>
<circle cx="135.08" cy="187.49" r="1.90" fill="#ff9a3c"/>
<circle cx="147.82" cy="192.68" r="1.90" fill="#ff9a3c"/>
<circle cx="160.56" cy="191.94" r="1.90" fill="#ff9a3c"/>
<circle cx="173.30" cy="191.94" r="1.90" fill="#ff9a3c"/>
<path d="M45.90 208.26 L58.64 192.68 L71.38 188.97 L84.12 180.07 L96.86 177.85 L109.60 182.30 L122.34 188.23 L135.08 191.94 L147.82 181.56 L160.56 186.75 L173.30 189.72" fill="none" stroke="#1010f0" stroke-width="1.3"/>
<path d="M45.90 197.88 V218.64 M43.80 197.88 H48.00 M43.80 218.64 H48.00" stroke="#1010f0" stroke-width="1.25" fill="none"/>
<rect x="44.15" y="206.51" width="3.50" height="3.50" fill="#1010f0"/>
<path d="M58.64 189.72 V195.65 M56.54 189.72 H60.74 M56.54 195.65 H60.74" stroke="#1010f0" stroke-width="1.25" fill="none"/>
<rect x="56.89" y="190.93" width="3.50" height="3.50" fill="#1010f0"/>
<path d="M71.38 185.27 V192.68 M69.28 185.27 H73.48 M69.28 192.68 H73.48" stroke="#1010f0" stroke-width="1.25" fill="none"/>
<rect x="69.63" y="187.22" width="3.50" height="3.50" fill="#1010f0"/>
<path d="M84.12 173.40 V186.75 M82.02 173.40 H86.22 M82.02 186.75 H86.22" stroke="#1010f0" stroke-width="1.25" fill="none"/>
<rect x="82.37" y="178.32" width="3.50" height="3.50" fill="#1010f0"/>
<path d="M96.86 174.14 V181.56 M94.76 174.14 H98.96 M94.76 181.56 H98.96" stroke="#1010f0" stroke-width="1.25" fill="none"/>
<rect x="95.11" y="176.10" width="3.50" height="3.50" fill="#1010f0"/>
<path d="M109.60 176.66 V187.94 M107.50 176.66 H111.70 M107.50 187.94 H111.70" stroke="#1010f0" stroke-width="1.25" fill="none"/>
<rect x="107.85" y="180.55" width="3.50" height="3.50" fill="#1010f0"/>
<path d="M122.34 186.45 V190.01 M120.24 186.45 H124.44 M120.24 190.01 H124.44" stroke="#1010f0" stroke-width="1.25" fill="none"/>
<rect x="120.59" y="186.48" width="3.50" height="3.50" fill="#1010f0"/>
<rect x="133.33" y="190.19" width="3.50" height="3.50" fill="#1010f0"/>
<rect x="146.07" y="179.81" width="3.50" height="3.50" fill="#1010f0"/>
<rect x="158.81" y="185.00" width="3.50" height="3.50" fill="#1010f0"/>
<rect x="171.55" y="187.97" width="3.50" height="3.50" fill="#1010f0"/>
<path d="M45.90 200.84 L58.64 188.97 L71.38 191.20 L84.12 187.49 L96.86 188.97 L109.60 189.72 L122.34 193.42 L135.08 191.94 L147.82 196.39 L160.56 188.23 L173.30 188.97" fill="none" stroke="#f01818" stroke-width="1.3"/>
<path d="M45.90 188.23 V213.45 M43.80 188.23 H48.00 M43.80 213.45 H48.00" stroke="#f01818" stroke-width="1.25" fill="none"/>
<path d="M45.90 198.44 L48.30 202.64 L43.50 202.64 Z" fill="#f01818"/>
<path d="M58.64 187.79 V190.16 M56.54 187.79 H60.74 M56.54 190.16 H60.74" stroke="#f01818" stroke-width="1.25" fill="none"/>
<path d="M58.64 186.57 L61.04 190.78 L56.24 190.78 Z" fill="#f01818"/>
<path d="M71.38 188.97 V193.42 M69.28 188.97 H73.48 M69.28 193.42 H73.48" stroke="#f01818" stroke-width="1.25" fill="none"/>
<path d="M71.38 188.80 L73.78 193.00 L68.98 193.00 Z" fill="#f01818"/>
<path d="M84.12 181.56 V193.42 M82.02 181.56 H86.22 M82.02 193.42 H86.22" stroke="#f01818" stroke-width="1.25" fill="none"/>
<path d="M84.12 185.09 L86.52 189.29 L81.72 189.29 Z" fill="#f01818"/>
<path d="M96.86 184.52 V193.42 M94.76 184.52 H98.96 M94.76 193.42 H98.96" stroke="#f01818" stroke-width="1.25" fill="none"/>
<path d="M96.86 186.57 L99.26 190.78 L94.46 190.78 Z" fill="#f01818"/>
<path d="M109.60 188.23 V191.20 M107.50 188.23 H111.70 M107.50 191.20 H111.70" stroke="#f01818" stroke-width="1.25" fill="none"/>
<path d="M109.60 187.32 L112.00 191.52 L107.20 191.52 Z" fill="#f01818"/>
<path d="M122.34 192.24 V194.61 M120.24 192.24 H124.44 M120.24 194.61 H124.44" stroke="#f01818" stroke-width="1.25" fill="none"/>
<path d="M122.34 191.02 L124.74 195.22 L119.94 195.22 Z" fill="#f01818"/>
<path d="M135.08 189.54 L137.48 193.74 L132.68 193.74 Z" fill="#f01818"/>
<path d="M147.82 193.99 L150.22 198.19 L145.42 198.19 Z" fill="#f01818"/>
<path d="M160.56 185.83 L162.96 190.03 L158.16 190.03 Z" fill="#f01818"/>
<path d="M173.30 186.57 L175.70 190.78 L170.90 190.78 Z" fill="#f01818"/>
<path d="M45.90 207.52 L58.64 198.62 L71.38 196.39 L84.12 186.75 L96.86 183.78 L109.60 189.72 L122.34 186.01 L135.08 190.46 L147.82 198.62 L160.56 196.39 L173.30 192.68" fill="none" stroke="#22ee22" stroke-width="1.3"/>
<path d="M45.90 204.55 V210.48 M43.80 204.55 H48.00 M43.80 210.48 H48.00" stroke="#22ee22" stroke-width="1.25" fill="none"/>
<path d="M45.90 209.92 L48.30 205.72 L43.50 205.72 Z" fill="#22ee22"/>
<path d="M58.64 194.17 V203.07 M56.54 194.17 H60.74 M56.54 203.07 H60.74" stroke="#22ee22" stroke-width="1.25" fill="none"/>
<path d="M58.64 201.02 L61.04 196.82 L56.24 196.82 Z" fill="#22ee22"/>
<path d="M71.38 195.20 V197.58 M69.28 195.20 H73.48 M69.28 197.58 H73.48" stroke="#22ee22" stroke-width="1.25" fill="none"/>
<path d="M71.38 198.79 L73.78 194.59 L68.98 194.59 Z" fill="#22ee22"/>
<path d="M84.12 182.30 V191.20 M82.02 182.30 H86.22 M82.02 191.20 H86.22" stroke="#22ee22" stroke-width="1.25" fill="none"/>
<path d="M84.12 189.15 L86.52 184.95 L81.72 184.95 Z" fill="#22ee22"/>
<path d="M96.86 181.56 V186.01 M94.76 181.56 H98.96 M94.76 186.01 H98.96" stroke="#22ee22" stroke-width="1.25" fill="none"/>
<path d="M96.86 186.18 L99.26 181.98 L94.46 181.98 Z" fill="#22ee22"/>
<path d="M109.60 188.53 V190.90 M107.50 188.53 H111.70 M107.50 190.90 H111.70" stroke="#22ee22" stroke-width="1.25" fill="none"/>
<path d="M109.60 192.12 L112.00 187.92 L107.20 187.92 Z" fill="#22ee22"/>
<path d="M122.34 184.23 V187.79 M120.24 184.23 H124.44 M120.24 187.79 H124.44" stroke="#22ee22" stroke-width="1.25" fill="none"/>
<path d="M122.34 188.41 L124.74 184.21 L119.94 184.21 Z" fill="#22ee22"/>
<path d="M135.08 192.86 L137.48 188.66 L132.68 188.66 Z" fill="#22ee22"/>
<path d="M147.82 201.02 L150.22 196.82 L145.42 196.82 Z" fill="#22ee22"/>
<path d="M160.56 198.79 L162.96 194.59 L158.16 194.59 Z" fill="#22ee22"/>
<path d="M173.30 195.08 L175.70 190.88 L170.90 190.88 Z" fill="#22ee22"/>
<line x1="185.2" y1="161.5" x2="194.8" y2="161.5" stroke="#ff9a3c" stroke-width="1.1"/>
<circle cx="190.00" cy="161.50" r="1.56" fill="#ff9a3c"/>
<text x="200" y="164.1" font-size="7.4" font-weight="bold">Con</text>
<line x1="185.2" y1="171.7" x2="194.8" y2="171.7" stroke="#1010f0" stroke-width="1.1"/>
<rect x="188.56" y="170.26" width="2.87" height="2.87" fill="#1010f0"/>
<text x="200" y="174.29999999999998" font-size="7.4" font-weight="bold">Con+H8</text>
<line x1="185.2" y1="182.3" x2="194.8" y2="182.3" stroke="#f01818" stroke-width="1.1"/>
<path d="M190.00 180.33 L191.97 183.78 L188.03 183.78 Z" fill="#f01818"/>
<text x="200" y="184.9" font-size="7.4" font-weight="bold">11β-HSD1</text>
<line x1="185.2" y1="192" x2="194.8" y2="192" stroke="#22ee22" stroke-width="1.1"/>
<path d="M190.00 193.97 L191.97 190.52 L188.03 190.52 Z" fill="#22ee22"/>
<text x="200" y="194.6" font-size="7.4" font-weight="bold">11β-HSD1+H8</text>
<text x="264.5" y="157.8" font-size="11.3" font-weight="bold">(C)</text>
<path d="M297.8 155.6 V245 M297.2 245 H432" stroke="#111" stroke-width="1.3" fill="none"/>
<line x1="294.40000000000003" y1="245.00" x2="297.8" y2="245.00" stroke="#111" stroke-width="1.3"/>
<text x="293.6" y="247.45" font-size="6.5" font-weight="bold" text-anchor="end">20</text>
<line x1="294.40000000000003" y1="222.80" x2="297.8" y2="222.80" stroke="#111" stroke-width="1.3"/>
<text x="293.6" y="225.25" font-size="6.5" font-weight="bold" text-anchor="end">25</text>
<line x1="294.40000000000003" y1="200.60" x2="297.8" y2="200.60" stroke="#111" stroke-width="1.3"/>
<text x="293.6" y="203.05" font-size="6.5" font-weight="bold" text-anchor="end">30</text>
<line x1="294.40000000000003" y1="178.40" x2="297.8" y2="178.40" stroke="#111" stroke-width="1.3"/>
<text x="293.6" y="180.85" font-size="6.5" font-weight="bold" text-anchor="end">35</text>
<line x1="294.40000000000003" y1="156.20" x2="297.8" y2="156.20" stroke="#111" stroke-width="1.3"/>
<text x="293.6" y="158.65" font-size="6.5" font-weight="bold" text-anchor="end">40</text>
<line x1="300.7" y1="245" x2="300.7" y2="248" stroke="#111" stroke-width="1.1"/>
<text transform="translate(302.90 253.00) rotate(-45)" text-anchor="end" font-size="6.8" font-weight="bold" fill="#1a1a1a">1</text>
<line x1="313.51" y1="245" x2="313.51" y2="248" stroke="#111" stroke-width="1.1"/>
<text transform="translate(315.71 253.00) rotate(-45)" text-anchor="end" font-size="6.8" font-weight="bold" fill="#1a1a1a">8</text>
<line x1="326.32" y1="245" x2="326.32" y2="248" stroke="#111" stroke-width="1.1"/>
<text transform="translate(328.52 253.00) rotate(-45)" text-anchor="end" font-size="6.8" font-weight="bold" fill="#1a1a1a">15</text>
<line x1="339.13" y1="245" x2="339.13" y2="248" stroke="#111" stroke-width="1.1"/>
<text transform="translate(341.33 253.00) rotate(-45)" text-anchor="end" font-size="6.8" font-weight="bold" fill="#1a1a1a">22</text>
<line x1="351.94" y1="245" x2="351.94" y2="248" stroke="#111" stroke-width="1.1"/>
<text transform="translate(354.14 253.00) rotate(-45)" text-anchor="end" font-size="6.8" font-weight="bold" fill="#1a1a1a">29</text>
<line x1="364.75" y1="245" x2="364.75" y2="248" stroke="#111" stroke-width="1.1"/>
<text transform="translate(366.95 253.00) rotate(-45)" text-anchor="end" font-size="6.8" font-weight="bold" fill="#1a1a1a">36</text>
<line x1="377.56" y1="245" x2="377.56" y2="248" stroke="#111" stroke-width="1.1"/>
<text transform="translate(379.76 253.00) rotate(-45)" text-anchor="end" font-size="6.8" font-weight="bold" fill="#1a1a1a">43</text>
<line x1="390.37" y1="245" x2="390.37" y2="248" stroke="#111" stroke-width="1.1"/>
<text transform="translate(392.57 253.00) rotate(-45)" text-anchor="end" font-size="6.8" font-weight="bold" fill="#1a1a1a">50</text>
<line x1="403.18" y1="245" x2="403.18" y2="248" stroke="#111" stroke-width="1.1"/>
<text transform="translate(405.38 253.00) rotate(-45)" text-anchor="end" font-size="6.8" font-weight="bold" fill="#1a1a1a">57</text>
<line x1="415.99" y1="245" x2="415.99" y2="248" stroke="#111" stroke-width="1.1"/>
<text transform="translate(418.19 253.00) rotate(-45)" text-anchor="end" font-size="6.8" font-weight="bold" fill="#1a1a1a">64</text>
<line x1="428.79999999999995" y1="245" x2="428.79999999999995" y2="248" stroke="#111" stroke-width="1.1"/>
<text transform="translate(431.00 253.00) rotate(-45)" text-anchor="end" font-size="6.8" font-weight="bold" fill="#1a1a1a">72</text>
<text transform="translate(281.8 200.2) rotate(-90)" text-anchor="middle" font-size="7.4" font-weight="bold" stroke="#111" stroke-width="0">Body Weight(g)</text>
<text x="364.9" y="267.6" text-anchor="middle" font-size="7.3" font-weight="bold">time(d)</text>
<path d="M300.70 238.34 L313.51 228.57 L326.32 225.02 L339.13 222.80 L351.94 221.47 L364.75 220.14 L377.56 216.81 L390.37 217.03 L403.18 214.81 L415.99 211.26 L422.39 208.15 L428.80 198.82" fill="none" stroke="#ff9a3c" stroke-width="1.3"/>
<path d="M300.70 237.01 V239.67 M298.60 237.01 H302.80 M298.60 239.67 H302.80" stroke="#ff9a3c" stroke-width="1.25" fill="none"/>
<circle cx="300.70" cy="238.34" r="1.90" fill="#ff9a3c"/>
<path d="M313.51 227.24 V229.90 M311.41 227.24 H315.61 M311.41 229.90 H315.61" stroke="#ff9a3c" stroke-width="1.25" fill="none"/>
<circle cx="313.51" cy="228.57" r="1.90" fill="#ff9a3c"/>
<path d="M326.32 222.80 V227.24 M324.22 222.80 H328.42 M324.22 227.24 H328.42" stroke="#ff9a3c" stroke-width="1.25" fill="none"/>
<circle cx="326.32" cy="225.02" r="1.90" fill="#ff9a3c"/>
<path d="M339.13 220.58 V225.02 M337.03 220.58 H341.23 M337.03 225.02 H341.23" stroke="#ff9a3c" stroke-width="1.25" fill="none"/>
<circle cx="339.13" cy="222.80" r="1.90" fill="#ff9a3c"/>
<path d="M351.94 219.69 V223.24 M349.84 219.69 H354.04 M349.84 223.24 H354.04" stroke="#ff9a3c" stroke-width="1.25" fill="none"/>
<circle cx="351.94" cy="221.47" r="1.90" fill="#ff9a3c"/>
<path d="M364.75 217.92 V222.36 M362.65 217.92 H366.85 M362.65 222.36 H366.85" stroke="#ff9a3c" stroke-width="1.25" fill="none"/>
<circle cx="364.75" cy="220.14" r="1.90" fill="#ff9a3c"/>
<path d="M377.56 214.14 V219.47 M375.46 214.14 H379.66 M375.46 219.47 H379.66" stroke="#ff9a3c" stroke-width="1.25" fill="none"/>
<circle cx="377.56" cy="216.81" r="1.90" fill="#ff9a3c"/>
<path d="M390.37 214.36 V219.69 M388.27 214.36 H392.47 M388.27 219.69 H392.47" stroke="#ff9a3c" stroke-width="1.25" fill="none"/>
<circle cx="390.37" cy="217.03" r="1.90" fill="#ff9a3c"/>
<path d="M403.18 212.14 V217.47 M401.08 212.14 H405.28 M401.08 217.47 H405.28" stroke="#ff9a3c" stroke-width="1.25" fill="none"/>
<circle cx="403.18" cy="214.81" r="1.90" fill="#ff9a3c"/>
<path d="M415.99 208.59 V213.92 M413.89 208.59 H418.09 M413.89 213.92 H418.09" stroke="#ff9a3c" stroke-width="1.25" fill="none"/>
<circle cx="415.99" cy="211.26" r="1.90" fill="#ff9a3c"/>
<path d="M422.39 205.93 V210.37 M420.29 205.93 H424.50 M420.29 210.37 H424.50" stroke="#ff9a3c" stroke-width="1.25" fill="none"/>
<circle cx="422.39" cy="208.15" r="1.90" fill="#ff9a3c"/>
<path d="M428.80 196.60 V201.04 M426.70 196.60 H430.90 M426.70 201.04 H430.90" stroke="#ff9a3c" stroke-width="1.25" fill="none"/>
<circle cx="428.80" cy="198.82" r="1.90" fill="#ff9a3c"/>
<path d="M300.70 237.45 L313.51 225.46 L326.32 225.91 L339.13 224.13 L351.94 221.91 L364.75 222.80 L377.56 218.80 L390.37 219.91 L403.18 217.47 L415.99 213.03 L422.39 212.14 L428.80 202.82" fill="none" stroke="#f01818" stroke-width="1.3"/>
<path d="M300.70 236.12 V238.78 M298.60 236.12 H302.80 M298.60 238.78 H302.80" stroke="#f01818" stroke-width="1.25" fill="none"/>
<rect x="298.95" y="235.70" width="3.50" height="3.50" fill="#f01818"/>
<path d="M313.51 223.24 V227.68 M311.41 223.24 H315.61 M311.41 227.68 H315.61" stroke="#f01818" stroke-width="1.25" fill="none"/>
<rect x="311.76" y="223.71" width="3.50" height="3.50" fill="#f01818"/>
<path d="M326.32 221.91 V229.90 M324.22 221.91 H328.42 M324.22 229.90 H328.42" stroke="#f01818" stroke-width="1.25" fill="none"/>
<rect x="324.57" y="224.16" width="3.50" height="3.50" fill="#f01818"/>
<path d="M339.13 220.58 V227.68 M337.03 220.58 H341.23 M337.03 227.68 H341.23" stroke="#f01818" stroke-width="1.25" fill="none"/>
<rect x="337.38" y="222.38" width="3.50" height="3.50" fill="#f01818"/>
<path d="M351.94 219.91 V223.91 M349.84 219.91 H354.04 M349.84 223.91 H354.04" stroke="#f01818" stroke-width="1.25" fill="none"/>
<rect x="350.19" y="220.16" width="3.50" height="3.50" fill="#f01818"/>
<path d="M364.75 219.69 V225.91 M362.65 219.69 H366.85 M362.65 225.91 H366.85" stroke="#f01818" stroke-width="1.25" fill="none"/>
<rect x="363.00" y="221.05" width="3.50" height="3.50" fill="#f01818"/>
<path d="M377.56 215.25 V222.36 M375.46 215.25 H379.66 M375.46 222.36 H379.66" stroke="#f01818" stroke-width="1.25" fill="none"/>
<rect x="375.81" y="217.05" width="3.50" height="3.50" fill="#f01818"/>
<path d="M390.37 215.92 V223.91 M388.27 215.92 H392.47 M388.27 223.91 H392.47" stroke="#f01818" stroke-width="1.25" fill="none"/>
<rect x="388.62" y="218.16" width="3.50" height="3.50" fill="#f01818"/>
<path d="M403.18 213.70 V221.25 M401.08 213.70 H405.28 M401.08 221.25 H405.28" stroke="#f01818" stroke-width="1.25" fill="none"/>
<rect x="401.43" y="215.72" width="3.50" height="3.50" fill="#f01818"/>
<path d="M415.99 209.92 V216.14 M413.89 209.92 H418.09 M413.89 216.14 H418.09" stroke="#f01818" stroke-width="1.25" fill="none"/>
<rect x="414.24" y="211.28" width="3.50" height="3.50" fill="#f01818"/>
<path d="M422.39 209.48 V214.81 M420.29 209.48 H424.50 M420.29 214.81 H424.50" stroke="#f01818" stroke-width="1.25" fill="none"/>
<rect x="420.64" y="210.39" width="3.50" height="3.50" fill="#f01818"/>
<path d="M428.80 200.60 V205.04 M426.70 200.60 H430.90 M426.70 205.04 H430.90" stroke="#f01818" stroke-width="1.25" fill="none"/>
<rect x="427.05" y="201.07" width="3.50" height="3.50" fill="#f01818"/>
<path d="M300.70 239.23 L313.51 226.35 L326.32 218.94 L339.13 219.47 L364.75 217.69 L377.56 210.55 L390.37 207.93 L403.18 205.04 L415.99 196.87 L422.39 191.90 L428.80 180.62" fill="none" stroke="#1010f0" stroke-width="1.3"/>
<path d="M300.70 237.90 V240.56 M298.60 237.90 H302.80 M298.60 240.56 H302.80" stroke="#1010f0" stroke-width="1.25" fill="none"/>
<path d="M300.70 236.83 L303.10 241.03 L298.30 241.03 Z" fill="#1010f0"/>
<path d="M313.51 224.58 V228.13 M311.41 224.58 H315.61 M311.41 228.13 H315.61" stroke="#1010f0" stroke-width="1.25" fill="none"/>
<path d="M313.51 223.95 L315.91 228.15 L311.11 228.15 Z" fill="#1010f0"/>
<path d="M326.32 215.83 V222.05 M324.22 215.83 H328.42 M324.22 222.05 H328.42" stroke="#1010f0" stroke-width="1.25" fill="none"/>
<path d="M326.32 216.54 L328.72 220.74 L323.92 220.74 Z" fill="#1010f0"/>
<path d="M339.13 216.14 V222.80 M337.03 216.14 H341.23 M337.03 222.80 H341.23" stroke="#1010f0" stroke-width="1.25" fill="none"/>
<path d="M339.13 217.07 L341.53 221.27 L336.73 221.27 Z" fill="#1010f0"/>
<path d="M364.75 214.14 V221.25 M362.65 214.14 H366.85 M362.65 221.25 H366.85" stroke="#1010f0" stroke-width="1.25" fill="none"/>
<path d="M364.75 215.29 L367.15 219.49 L362.35 219.49 Z" fill="#1010f0"/>
<path d="M377.56 207.22 V213.88 M375.46 207.22 H379.66 M375.46 213.88 H379.66" stroke="#1010f0" stroke-width="1.25" fill="none"/>
<path d="M377.56 208.15 L379.96 212.35 L375.16 212.35 Z" fill="#1010f0"/>
<path d="M390.37 204.82 V211.03 M388.27 204.82 H392.47 M388.27 211.03 H392.47" stroke="#1010f0" stroke-width="1.25" fill="none"/>
<path d="M390.37 205.53 L392.77 209.73 L387.97 209.73 Z" fill="#1010f0"/>
<path d="M403.18 201.71 V208.37 M401.08 201.71 H405.28 M401.08 208.37 H405.28" stroke="#1010f0" stroke-width="1.25" fill="none"/>
<path d="M403.18 202.64 L405.58 206.84 L400.78 206.84 Z" fill="#1010f0"/>
<path d="M415.99 193.76 V199.98 M413.89 193.76 H418.09 M413.89 199.98 H418.09" stroke="#1010f0" stroke-width="1.25" fill="none"/>
<path d="M415.99 194.47 L418.39 198.67 L413.59 198.67 Z" fill="#1010f0"/>
<path d="M422.39 188.79 V195.01 M420.29 188.79 H424.50 M420.29 195.01 H424.50" stroke="#1010f0" stroke-width="1.25" fill="none"/>
<path d="M422.39 189.50 L424.79 193.70 L420.00 193.70 Z" fill="#1010f0"/>
<path d="M428.80 178.62 V182.62 M426.70 178.62 H430.90 M426.70 182.62 H430.90" stroke="#1010f0" stroke-width="1.25" fill="none"/>
<path d="M428.80 178.22 L431.20 182.42 L426.40 182.42 Z" fill="#1010f0"/>
<path d="M300.70 240.34 L313.51 226.57 L326.32 223.38 L339.13 222.80 L364.75 221.91 L377.56 218.36 L390.37 216.76 L396.77 214.36 L403.18 213.65 L409.58 212.14 L415.99 209.04 L422.39 204.33 L428.80 193.50" fill="none" stroke="#22ee22" stroke-width="1.3"/>
<path d="M300.70 239.01 V241.67 M298.60 239.01 H302.80 M298.60 241.67 H302.80" stroke="#22ee22" stroke-width="1.25" fill="none"/>
<path d="M300.70 242.74 L303.10 238.54 L298.30 238.54 Z" fill="#22ee22"/>
<path d="M313.51 224.80 V228.35 M311.41 224.80 H315.61 M311.41 228.35 H315.61" stroke="#22ee22" stroke-width="1.25" fill="none"/>
<path d="M313.51 228.97 L315.91 224.77 L311.11 224.77 Z" fill="#22ee22"/>
<path d="M326.32 219.38 V227.37 M324.22 219.38 H328.42 M324.22 227.37 H328.42" stroke="#22ee22" stroke-width="1.25" fill="none"/>
<path d="M326.32 225.78 L328.72 221.58 L323.92 221.58 Z" fill="#22ee22"/>
<path d="M339.13 218.80 V226.80 M337.03 218.80 H341.23 M337.03 226.80 H341.23" stroke="#22ee22" stroke-width="1.25" fill="none"/>
<path d="M339.13 225.20 L341.53 221.00 L336.73 221.00 Z" fill="#22ee22"/>
<path d="M364.75 217.92 V225.91 M362.65 217.92 H366.85 M362.65 225.91 H366.85" stroke="#22ee22" stroke-width="1.25" fill="none"/>
<path d="M364.75 224.31 L367.15 220.11 L362.35 220.11 Z" fill="#22ee22"/>
<path d="M377.56 214.14 V222.58 M375.46 214.14 H379.66 M375.46 222.58 H379.66" stroke="#22ee22" stroke-width="1.25" fill="none"/>
<path d="M377.56 220.76 L379.96 216.56 L375.16 216.56 Z" fill="#22ee22"/>
<path d="M390.37 212.77 V220.76 M388.27 212.77 H392.47 M388.27 220.76 H392.47" stroke="#22ee22" stroke-width="1.25" fill="none"/>
<path d="M390.37 219.16 L392.77 214.96 L387.97 214.96 Z" fill="#22ee22"/>
<path d="M396.77 209.04 V219.69 M394.67 209.04 H398.88 M394.67 219.69 H398.88" stroke="#22ee22" stroke-width="1.25" fill="none"/>
<path d="M396.77 216.76 L399.17 212.56 L394.38 212.56 Z" fill="#22ee22"/>
<path d="M403.18 209.44 V217.87 M401.08 209.44 H405.28 M401.08 217.87 H405.28" stroke="#22ee22" stroke-width="1.25" fill="none"/>
<path d="M403.18 216.05 L405.58 211.85 L400.78 211.85 Z" fill="#22ee22"/>
<path d="M409.58 207.26 V217.03 M407.48 207.26 H411.69 M407.48 217.03 H411.69" stroke="#22ee22" stroke-width="1.25" fill="none"/>
<path d="M409.58 214.54 L411.98 210.34 L407.19 210.34 Z" fill="#22ee22"/>
<path d="M415.99 205.04 V213.03 M413.89 205.04 H418.09 M413.89 213.03 H418.09" stroke="#22ee22" stroke-width="1.25" fill="none"/>
<path d="M415.99 211.44 L418.39 207.24 L413.59 207.24 Z" fill="#22ee22"/>
<path d="M422.39 201.22 V207.44 M420.29 201.22 H424.50 M420.29 207.44 H424.50" stroke="#22ee22" stroke-width="1.25" fill="none"/>
<path d="M422.39 206.73 L424.79 202.53 L420.00 202.53 Z" fill="#22ee22"/>
<path d="M428.80 191.28 V195.72 M426.70 191.28 H430.90 M426.70 195.72 H430.90" stroke="#22ee22" stroke-width="1.25" fill="none"/>
<path d="M428.80 195.90 L431.20 191.70 L426.40 191.70 Z" fill="#22ee22"/>
<line x1="441.2" y1="161.8" x2="450.8" y2="161.8" stroke="#ff9a3c" stroke-width="1.1"/>
<circle cx="446.00" cy="161.80" r="1.90" fill="#ff9a3c"/>
<text x="456" y="164.4" font-size="7.4" font-weight="bold">Con</text>
<line x1="441.2" y1="172.2" x2="450.8" y2="172.2" stroke="#f01818" stroke-width="1.1"/>
<rect x="444.25" y="170.45" width="3.50" height="3.50" fill="#f01818"/>
<text x="456" y="174.79999999999998" font-size="7.4" font-weight="bold">Con+H8</text>
<line x1="441.2" y1="182.3" x2="450.8" y2="182.3" stroke="#1010f0" stroke-width="1.1"/>
<path d="M446.00 179.90 L448.40 184.10 L443.60 184.10 Z" fill="#1010f0"/>
<text x="456" y="184.9" font-size="7.4" font-weight="bold">11β-HSD1</text>
<line x1="441.2" y1="192.7" x2="450.8" y2="192.7" stroke="#22ee22" stroke-width="1.1"/>
<path d="M446.00 195.10 L448.40 190.90 L443.60 190.90 Z" fill="#22ee22"/>
<text x="456" y="195.29999999999998" font-size="7.4" font-weight="bold">11β-HSD1+H8</text>
<text x="555" y="163" font-size="11.3" font-weight="bold">(D)</text>
<path d="M604.70 189.69 V189.00 M600.70 189.00 H608.70" stroke="#111" stroke-width="1.1" fill="none"/>
<rect x="598.00" y="189.69" width="13.4" height="68.31" fill="#fff" stroke="#111" stroke-width="1.3"/>
<path d="M626.00 192.22 V191.30 M622.00 191.30 H630.00" stroke="#111" stroke-width="1.1" fill="none"/>
<rect x="619.30" y="192.22" width="13.4" height="65.78" fill="#fff" stroke="#111" stroke-width="1.3"/>
<path d="M647.20 173.59 V172.90 M643.20 172.90 H651.20" stroke="#111" stroke-width="1.1" fill="none"/>
<rect x="640.50" y="173.59" width="13.4" height="84.41" fill="#fff" stroke="#111" stroke-width="1.3"/>
<path d="M668.30 185.09 V184.17 M664.30 184.17 H672.30" stroke="#111" stroke-width="1.1" fill="none"/>
<rect x="661.60" y="185.09" width="13.4" height="72.91" fill="#fff" stroke="#111" stroke-width="1.3"/>
<path d="M590.7 165.4 V258 M590.1 258 H684" stroke="#111" stroke-width="1.3" fill="none"/>
<line x1="587.3000000000001" y1="258.00" x2="590.7" y2="258.00" stroke="#111" stroke-width="1.3"/>
<text x="585.7" y="260.60" font-size="7.2" font-weight="bold" text-anchor="end">0</text>
<line x1="587.3000000000001" y1="235.00" x2="590.7" y2="235.00" stroke="#111" stroke-width="1.3"/>
<text x="585.7" y="237.60" font-size="7.2" font-weight="bold" text-anchor="end">10</text>
<line x1="587.3000000000001" y1="212.00" x2="590.7" y2="212.00" stroke="#111" stroke-width="1.3"/>
<text x="585.7" y="214.60" font-size="7.2" font-weight="bold" text-anchor="end">20</text>
<line x1="587.3000000000001" y1="189.00" x2="590.7" y2="189.00" stroke="#111" stroke-width="1.3"/>
<text x="585.7" y="191.60" font-size="7.2" font-weight="bold" text-anchor="end">30</text>
<line x1="587.3000000000001" y1="166.00" x2="590.7" y2="166.00" stroke="#111" stroke-width="1.3"/>
<text x="585.7" y="168.60" font-size="7.2" font-weight="bold" text-anchor="end">40</text>
<line x1="604.7" y1="258" x2="604.7" y2="261.8" stroke="#111" stroke-width="1.3"/>
<text transform="translate(607.10 266.20) rotate(-45)" text-anchor="end" font-size="7.2" font-weight="bold" fill="#1a1a1a">Con</text>
<line x1="626" y1="258" x2="626" y2="261.8" stroke="#111" stroke-width="1.3"/>
<text transform="translate(628.40 266.20) rotate(-45)" text-anchor="end" font-size="7.2" font-weight="bold" fill="#1a1a1a">Con+H8</text>
<line x1="647.2" y1="258" x2="647.2" y2="261.8" stroke="#111" stroke-width="1.3"/>
<text transform="translate(649.60 266.20) rotate(-45)" text-anchor="end" font-size="7.2" font-weight="bold" fill="#1a1a1a">11β-HSD1</text>
<line x1="668.3" y1="258" x2="668.3" y2="261.8" stroke="#111" stroke-width="1.3"/>
<text transform="translate(670.70 266.20) rotate(-45)" text-anchor="end" font-size="7.2" font-weight="bold" fill="#1a1a1a">11β-HSD1+H8</text>
<text transform="translate(573.8 212.0) rotate(-90)" text-anchor="middle" font-size="8.2" font-weight="normal" stroke="#111" stroke-width="0.22">Body Weight (g)</text>
<path d="M604 157.4 H643.3 M604 153.4 V161.4 M643.3 153.4 V161.4" stroke="#111" stroke-width="1.3" fill="none"/>
<text x="624.35" y="156.0" font-size="11" font-weight="bold" text-anchor="middle" letter-spacing="1.4" stroke="#111" stroke-width="0.5" stroke-linejoin="round">***</text>
<path d="M647.7 157.4 H668.3 M647.7 153.4 V161.4 M668.3 153.4 V161.4" stroke="#111" stroke-width="1.3" fill="none"/>
<text x="658.0" y="153.1" font-size="8.2" font-style="italic" text-anchor="middle" fill="#3a3a3a" stroke="#3a3a3a" stroke-width="0.15" letter-spacing="-0.45">###</text>
<path d="M604 174.7 H626 M604 170.7 V178.7 M626 170.7 V178.7" stroke="#111" stroke-width="1.3" fill="none"/>
<text x="615.7" y="173.29999999999998" font-size="11" font-weight="bold" text-anchor="middle" letter-spacing="1.4" stroke="#111" stroke-width="0.5" stroke-linejoin="round">***</text>
<text x="6" y="318" font-size="11.3" font-weight="bold">(E)</text>
<path d="M57.70 378.30 V376.62 M53.70 376.62 H61.70" stroke="#111" stroke-width="1.1" fill="none"/>
<rect x="51.00" y="378.30" width="13.4" height="28.40" fill="#fff" stroke="#111" stroke-width="1.3"/>
<path d="M78.80 378.79 V376.65 M74.80 376.65 H82.80" stroke="#111" stroke-width="1.1" fill="none"/>
<rect x="72.10" y="378.79" width="13.4" height="27.91" fill="#fff" stroke="#111" stroke-width="1.3"/>
<path d="M100.00 325.74 V324.67 M96.00 324.67 H104.00" stroke="#111" stroke-width="1.1" fill="none"/>
<rect x="93.30" y="325.74" width="13.4" height="80.96" fill="#fff" stroke="#111" stroke-width="1.3"/>
<path d="M121.20 358.86 V356.10 M117.20 356.10 H125.20" stroke="#111" stroke-width="1.1" fill="none"/>
<rect x="114.50" y="358.86" width="13.4" height="47.84" fill="#fff" stroke="#111" stroke-width="1.3"/>
<path d="M43.3 314.09999999999997 V406.7 M42.699999999999996 406.7 H135" stroke="#111" stroke-width="1.3" fill="none"/>
<line x1="39.9" y1="406.70" x2="43.3" y2="406.70" stroke="#111" stroke-width="1.3"/>
<text x="38.3" y="409.30" font-size="7.2" font-weight="bold" text-anchor="end">0</text>
<line x1="39.9" y1="376.03" x2="43.3" y2="376.03" stroke="#111" stroke-width="1.3"/>
<text x="38.3" y="378.63" font-size="7.2" font-weight="bold" text-anchor="end">10</text>
<line x1="39.9" y1="345.37" x2="43.3" y2="345.37" stroke="#111" stroke-width="1.3"/>
<text x="38.3" y="347.97" font-size="7.2" font-weight="bold" text-anchor="end">20</text>
<line x1="39.9" y1="314.70" x2="43.3" y2="314.70" stroke="#111" stroke-width="1.3"/>
<text x="38.3" y="317.30" font-size="7.2" font-weight="bold" text-anchor="end">30</text>
<line x1="57.7" y1="406.7" x2="57.7" y2="410.5" stroke="#111" stroke-width="1.3"/>
<text transform="translate(60.10 414.90) rotate(-45)" text-anchor="end" font-size="7.2" font-weight="bold" fill="#1a1a1a">Con</text>
<line x1="78.8" y1="406.7" x2="78.8" y2="410.5" stroke="#111" stroke-width="1.3"/>
<text transform="translate(81.20 414.90) rotate(-45)" text-anchor="end" font-size="7.2" font-weight="bold" fill="#1a1a1a">Con+H8</text>
<line x1="100" y1="406.7" x2="100" y2="410.5" stroke="#111" stroke-width="1.3"/>
<text transform="translate(102.40 414.90) rotate(-45)" text-anchor="end" font-size="7.2" font-weight="bold" fill="#1a1a1a">11β-HSD1</text>
<line x1="121.2" y1="406.7" x2="121.2" y2="410.5" stroke="#111" stroke-width="1.3"/>
<text transform="translate(123.60 414.90) rotate(-45)" text-anchor="end" font-size="7.2" font-weight="bold" fill="#1a1a1a">11β-HSD1+H8</text>
<text transform="translate(25.5 360.7) rotate(-90)" text-anchor="middle" font-size="7.8" font-weight="normal" stroke="#111" stroke-width="0.22">CORT (nm/mL)</text>
<path d="M56 315.5 H97.7 M56 311.5 V319.5 M97.7 311.5 V319.5" stroke="#111" stroke-width="1.3" fill="none"/>
<text x="77.55" y="314.1" font-size="11" font-weight="bold" text-anchor="middle" letter-spacing="1.4" stroke="#111" stroke-width="0.5" stroke-linejoin="round">***</text>
<path d="M101 315.5 H121 M101 311.5 V319.5 M121 311.5 V319.5" stroke="#111" stroke-width="1.3" fill="none"/>
<text x="111.0" y="311.2" font-size="8.2" font-style="italic" text-anchor="middle" fill="#3a3a3a" stroke="#3a3a3a" stroke-width="0.15" letter-spacing="-0.45">###</text>
<text x="138.5" y="317.4" font-size="11.3" font-weight="bold">(F)</text>
<path d="M199.70 376.70 V375.17 M195.70 375.17 H203.70" stroke="#111" stroke-width="1.1" fill="none"/>
<rect x="193.00" y="376.70" width="13.4" height="28.60" fill="#fff" stroke="#111" stroke-width="1.3"/>
<path d="M221.00 378.08 V376.92 M217.00 376.92 H225.00" stroke="#111" stroke-width="1.1" fill="none"/>
<rect x="214.30" y="378.08" width="13.4" height="27.22" fill="#fff" stroke="#111" stroke-width="1.3"/>
<path d="M242.20 339.32 V332.70 M238.20 332.70 H246.20" stroke="#111" stroke-width="1.1" fill="none"/>
<rect x="235.50" y="339.32" width="13.4" height="65.98" fill="#fff" stroke="#111" stroke-width="1.3"/>
<path d="M263.30 372.98 V370.76 M259.30 370.76 H267.30" stroke="#111" stroke-width="1.1" fill="none"/>
<rect x="256.60" y="372.98" width="13.4" height="32.32" fill="#fff" stroke="#111" stroke-width="1.3"/>
<path d="M185.3 312.09999999999997 V405.3 M184.70000000000002 405.3 H275" stroke="#111" stroke-width="1.3" fill="none"/>
<line x1="181.9" y1="405.30" x2="185.3" y2="405.30" stroke="#111" stroke-width="1.3"/>
<text x="180.3" y="407.90" font-size="7.2" font-weight="bold" text-anchor="end">0</text>
<line x1="181.9" y1="382.15" x2="185.3" y2="382.15" stroke="#111" stroke-width="1.3"/>
<text x="180.3" y="384.75" font-size="7.2" font-weight="bold" text-anchor="end">5000</text>
<line x1="181.9" y1="359.00" x2="185.3" y2="359.00" stroke="#111" stroke-width="1.3"/>
<text x="180.3" y="361.60" font-size="7.2" font-weight="bold" text-anchor="end">10000</text>
<line x1="181.9" y1="335.85" x2="185.3" y2="335.85" stroke="#111" stroke-width="1.3"/>
<text x="180.3" y="338.45" font-size="7.2" font-weight="bold" text-anchor="end">15000</text>
<line x1="181.9" y1="312.70" x2="185.3" y2="312.70" stroke="#111" stroke-width="1.3"/>
<text x="180.3" y="315.30" font-size="7.2" font-weight="bold" text-anchor="end">20000</text>
<line x1="199.7" y1="405.3" x2="199.7" y2="409.1" stroke="#111" stroke-width="1.3"/>
<text transform="translate(202.10 413.50) rotate(-45)" text-anchor="end" font-size="7.2" font-weight="bold" fill="#1a1a1a">Con</text>
<line x1="221" y1="405.3" x2="221" y2="409.1" stroke="#111" stroke-width="1.3"/>
<text transform="translate(223.40 413.50) rotate(-45)" text-anchor="end" font-size="7.2" font-weight="bold" fill="#1a1a1a">Con+H8</text>
<line x1="242.2" y1="405.3" x2="242.2" y2="409.1" stroke="#111" stroke-width="1.3"/>
<text transform="translate(244.60 413.50) rotate(-45)" text-anchor="end" font-size="7.2" font-weight="bold" fill="#1a1a1a">11β-HSD1</text>
<line x1="263.3" y1="405.3" x2="263.3" y2="409.1" stroke="#111" stroke-width="1.3"/>
<text transform="translate(265.70 413.50) rotate(-45)" text-anchor="end" font-size="7.2" font-weight="bold" fill="#1a1a1a">11β-HSD1+H8</text>
<text transform="translate(155 359.0) rotate(-90)" text-anchor="middle" font-size="8.0" font-weight="normal" stroke="#111" stroke-width="0.22">CHO (g/L)</text>
<path d="M199.7 318.3 H239.3 M199.7 314.3 V322.3 M239.3 314.3 V322.3" stroke="#111" stroke-width="1.3" fill="none"/>
<text x="220.2" y="316.90000000000003" font-size="11" font-weight="bold" text-anchor="middle" letter-spacing="1.4" stroke="#111" stroke-width="0.5" stroke-linejoin="round">***</text>
<path d="M242.7 318.3 H263.3 M242.7 314.3 V322.3 M263.3 314.3 V322.3" stroke="#111" stroke-width="1.3" fill="none"/>
<text x="253.0" y="314.0" font-size="8.2" font-style="italic" text-anchor="middle" fill="#3a3a3a" stroke="#3a3a3a" stroke-width="0.15" letter-spacing="-0.45">###</text>
<text x="288.2" y="318" font-size="11.3" font-weight="bold">(G)</text>
<path d="M344.20 365.70 V363.91 M340.20 363.91 H348.20" stroke="#111" stroke-width="1.1" fill="none"/>
<rect x="337.50" y="365.70" width="13.4" height="42.00" fill="#fff" stroke="#111" stroke-width="1.3"/>
<path d="M364.80 367.70 V366.33 M360.80 366.33 H368.80" stroke="#111" stroke-width="1.1" fill="none"/>
<rect x="358.10" y="367.70" width="13.4" height="40.00" fill="#fff" stroke="#111" stroke-width="1.3"/>
<path d="M385.30 337.00 V333.66 M381.30 333.66 H389.30" stroke="#111" stroke-width="1.1" fill="none"/>
<rect x="378.60" y="337.00" width="13.4" height="70.70" fill="#fff" stroke="#111" stroke-width="1.3"/>
<path d="M406.10 366.70 V364.19 M402.10 364.19 H410.10" stroke="#111" stroke-width="1.1" fill="none"/>
<rect x="399.40" y="366.70" width="13.4" height="41.00" fill="#fff" stroke="#111" stroke-width="1.3"/>
<path d="M329.3 317.7 V407.7 M328.7 407.7 H420.7" stroke="#111" stroke-width="1.3" fill="none"/>
<line x1="325.90000000000003" y1="407.70" x2="329.3" y2="407.70" stroke="#111" stroke-width="1.3"/>
<text x="324.3" y="410.30" font-size="6.5" font-weight="bold" text-anchor="end">0</text>
<line x1="325.90000000000003" y1="377.90" x2="329.3" y2="377.90" stroke="#111" stroke-width="1.3"/>
<text x="324.3" y="380.50" font-size="6.5" font-weight="bold" text-anchor="end">5000</text>
<line x1="325.90000000000003" y1="348.10" x2="329.3" y2="348.10" stroke="#111" stroke-width="1.3"/>
<text x="324.3" y="350.70" font-size="6.5" font-weight="bold" text-anchor="end">10000</text>
<line x1="325.90000000000003" y1="318.30" x2="329.3" y2="318.30" stroke="#111" stroke-width="1.3"/>
<text x="324.3" y="320.90" font-size="6.5" font-weight="bold" text-anchor="end">15000</text>
<line x1="344.2" y1="407.7" x2="344.2" y2="411.5" stroke="#111" stroke-width="1.3"/>
<text transform="translate(346.60 415.90) rotate(-45)" text-anchor="end" font-size="7.2" font-weight="bold" fill="#1a1a1a">Con</text>
<line x1="364.8" y1="407.7" x2="364.8" y2="411.5" stroke="#111" stroke-width="1.3"/>
<text transform="translate(367.20 415.90) rotate(-45)" text-anchor="end" font-size="7.2" font-weight="bold" fill="#1a1a1a">Con+H8</text>
<line x1="385.3" y1="407.7" x2="385.3" y2="411.5" stroke="#111" stroke-width="1.3"/>
<text transform="translate(387.70 415.90) rotate(-45)" text-anchor="end" font-size="7.2" font-weight="bold" fill="#1a1a1a">11β-HSD1</text>
<line x1="406.1" y1="407.7" x2="406.1" y2="411.5" stroke="#111" stroke-width="1.3"/>
<text transform="translate(408.50 415.90) rotate(-45)" text-anchor="end" font-size="7.2" font-weight="bold" fill="#1a1a1a">11β-HSD1+H8</text>
<text transform="translate(302 363.0) rotate(-90)" text-anchor="middle" font-size="7.7" font-weight="normal" stroke="#111" stroke-width="0.22">TG (g/L)</text>
<path d="M344 322.5 H383.3 M344 318.5 V326.5 M383.3 318.5 V326.5" stroke="#111" stroke-width="1.3" fill="none"/>
<text x="364.34999999999997" y="321.1" font-size="11" font-weight="bold" text-anchor="middle" letter-spacing="1.4" stroke="#111" stroke-width="0.5" stroke-linejoin="round">***</text>
<path d="M386.7 322.5 H405.2 M386.7 318.5 V326.5 M405.2 318.5 V326.5" stroke="#111" stroke-width="1.3" fill="none"/>
<text x="395.95" y="318.2" font-size="8.2" font-style="italic" text-anchor="middle" fill="#3a3a3a" stroke="#3a3a3a" stroke-width="0.15" letter-spacing="-0.45">###</text>
<text x="420.5" y="318" font-size="11.3" font-weight="bold">(H)</text>
<path d="M474.20 362.69 V360.67 M470.20 360.67 H478.20" stroke="#111" stroke-width="1.1" fill="none"/>
<rect x="467.50" y="362.69" width="13.4" height="44.01" fill="#fff" stroke="#111" stroke-width="1.3"/>
<path d="M495.00 371.69 V368.99 M491.00 368.99 H499.00" stroke="#111" stroke-width="1.1" fill="none"/>
<rect x="488.30" y="371.69" width="13.4" height="35.01" fill="#fff" stroke="#111" stroke-width="1.3"/>
<path d="M516.00 332.00 V327.27 M512.00 327.27 H520.00" stroke="#111" stroke-width="1.1" fill="none"/>
<rect x="509.30" y="332.00" width="13.4" height="74.70" fill="#fff" stroke="#111" stroke-width="1.3"/>
<path d="M536.20 349.32 V347.62 M532.20 347.62 H540.20" stroke="#111" stroke-width="1.1" fill="none"/>
<rect x="529.50" y="349.32" width="13.4" height="57.38" fill="#fff" stroke="#111" stroke-width="1.3"/>
<path d="M460.2 316.09999999999997 V406.7 M459.59999999999997 406.7 H549" stroke="#111" stroke-width="1.3" fill="none"/>
<line x1="456.8" y1="406.70" x2="460.2" y2="406.70" stroke="#111" stroke-width="1.3"/>
<text x="455.2" y="409.30" font-size="6.5" font-weight="bold" text-anchor="end">0</text>
<line x1="456.8" y1="384.20" x2="460.2" y2="384.20" stroke="#111" stroke-width="1.3"/>
<text x="455.2" y="386.80" font-size="6.5" font-weight="bold" text-anchor="end">500</text>
<line x1="456.8" y1="361.70" x2="460.2" y2="361.70" stroke="#111" stroke-width="1.3"/>
<text x="455.2" y="364.30" font-size="6.5" font-weight="bold" text-anchor="end">1000</text>
<line x1="456.8" y1="339.20" x2="460.2" y2="339.20" stroke="#111" stroke-width="1.3"/>
<text x="455.2" y="341.80" font-size="6.5" font-weight="bold" text-anchor="end">1500</text>
<line x1="456.8" y1="316.70" x2="460.2" y2="316.70" stroke="#111" stroke-width="1.3"/>
<text x="455.2" y="319.30" font-size="6.5" font-weight="bold" text-anchor="end">2000</text>
<line x1="474.2" y1="406.7" x2="474.2" y2="410.5" stroke="#111" stroke-width="1.3"/>
<text transform="translate(476.60 414.90) rotate(-45)" text-anchor="end" font-size="7.2" font-weight="bold" fill="#1a1a1a">Con</text>
<line x1="495" y1="406.7" x2="495" y2="410.5" stroke="#111" stroke-width="1.3"/>
<text transform="translate(497.40 414.90) rotate(-45)" text-anchor="end" font-size="7.2" font-weight="bold" fill="#1a1a1a">Con+H8</text>
<line x1="516" y1="406.7" x2="516" y2="410.5" stroke="#111" stroke-width="1.3"/>
<text transform="translate(518.40 414.90) rotate(-45)" text-anchor="end" font-size="7.2" font-weight="bold" fill="#1a1a1a">11β-HSD1</text>
<line x1="536.2" y1="406.7" x2="536.2" y2="410.5" stroke="#111" stroke-width="1.3"/>
<text transform="translate(538.60 414.90) rotate(-45)" text-anchor="end" font-size="7.2" font-weight="bold" fill="#1a1a1a">11β-HSD1+H8</text>
<text transform="translate(436 361.7) rotate(-90)" text-anchor="middle" font-size="7.9" font-weight="normal" stroke="#111" stroke-width="0.22">LDL (g/L)</text>
<path d="M474 320.4 H513.3 M474 316.4 V324.4 M513.3 316.4 V324.4" stroke="#111" stroke-width="1.3" fill="none"/>
<text x="494.34999999999997" y="319.0" font-size="11" font-weight="bold" text-anchor="middle" letter-spacing="1.4" stroke="#111" stroke-width="0.5" stroke-linejoin="round">***</text>
<path d="M516.7 320.4 H536 M516.7 316.4 V324.4 M536 316.4 V324.4" stroke="#111" stroke-width="1.3" fill="none"/>
<text x="526.35" y="316.09999999999997" font-size="8.2" font-style="italic" text-anchor="middle" fill="#3a3a3a" stroke="#3a3a3a" stroke-width="0.15" letter-spacing="-0.45">###</text>
<path d="M474 334.6 H495.7 M474 330.6 V338.6 M495.7 330.6 V338.6" stroke="#111" stroke-width="1.3" fill="none"/>
<text x="485.55" y="333.20000000000005" font-size="11" font-weight="bold" text-anchor="middle" letter-spacing="1.4" stroke="#111" stroke-width="0.5" stroke-linejoin="round">*</text>
<text x="554" y="318" font-size="11.3" font-weight="bold">(I)</text>
<path d="M607.20 377.00 V373.34 M603.20 373.34 H611.20" stroke="#111" stroke-width="1.1" fill="none"/>
<rect x="600.60" y="377.00" width="13.2" height="29.70" fill="#fff" stroke="#111" stroke-width="1.3"/>
<path d="M627.70 384.68 V383.30 M623.70 383.30 H631.70" stroke="#111" stroke-width="1.1" fill="none"/>
<rect x="621.10" y="384.68" width="13.2" height="22.02" fill="#fff" stroke="#111" stroke-width="1.3"/>
<path d="M648.30 352.34 V347.36 M644.30 347.36 H652.30" stroke="#111" stroke-width="1.1" fill="none"/>
<rect x="641.70" y="352.34" width="13.2" height="54.36" fill="#fff" stroke="#111" stroke-width="1.3"/>
<path d="M669.00 377.30 V374.00 M665.00 374.00 H673.00" stroke="#111" stroke-width="1.1" fill="none"/>
<rect x="662.40" y="377.30" width="13.2" height="29.40" fill="#fff" stroke="#111" stroke-width="1.3"/>
<path d="M593.3 316.09999999999997 V406.7 M592.6999999999999 406.7 H681.7" stroke="#111" stroke-width="1.3" fill="none"/>
<line x1="589.9" y1="406.70" x2="593.3" y2="406.70" stroke="#111" stroke-width="1.3"/>
<text x="588.3" y="409.30" font-size="6.7" font-weight="bold" text-anchor="end">0</text>
<line x1="589.9" y1="376.70" x2="593.3" y2="376.70" stroke="#111" stroke-width="1.3"/>
<text x="588.3" y="379.30" font-size="6.7" font-weight="bold" text-anchor="end">5000</text>
<line x1="589.9" y1="346.70" x2="593.3" y2="346.70" stroke="#111" stroke-width="1.3"/>
<text x="588.3" y="349.30" font-size="6.7" font-weight="bold" text-anchor="end">10000</text>
<line x1="589.9" y1="316.70" x2="593.3" y2="316.70" stroke="#111" stroke-width="1.3"/>
<text x="588.3" y="319.30" font-size="6.7" font-weight="bold" text-anchor="end">15000</text>
<line x1="607.2" y1="406.7" x2="607.2" y2="410.5" stroke="#111" stroke-width="1.3"/>
<text transform="translate(609.60 414.90) rotate(-45)" text-anchor="end" font-size="7.2" font-weight="bold" fill="#1a1a1a">Con</text>
<line x1="627.7" y1="406.7" x2="627.7" y2="410.5" stroke="#111" stroke-width="1.3"/>
<text transform="translate(630.10 414.90) rotate(-45)" text-anchor="end" font-size="7.2" font-weight="bold" fill="#1a1a1a">Con+H8</text>
<line x1="648.3" y1="406.7" x2="648.3" y2="410.5" stroke="#111" stroke-width="1.3"/>
<text transform="translate(650.70 414.90) rotate(-45)" text-anchor="end" font-size="7.2" font-weight="bold" fill="#1a1a1a">11β-HSD1</text>
<line x1="669" y1="406.7" x2="669" y2="410.5" stroke="#111" stroke-width="1.3"/>
<text transform="translate(671.40 414.90) rotate(-45)" text-anchor="end" font-size="7.2" font-weight="bold" fill="#1a1a1a">11β-HSD1+H8</text>
<text transform="translate(565.4 361.7) rotate(-90)" text-anchor="middle" font-size="7.75" font-weight="normal" stroke="#111" stroke-width="0.22">HDL (g/L)</text>
<path d="M607.7 328.9 H645.7 M607.7 324.9 V332.9 M645.7 324.9 V332.9" stroke="#111" stroke-width="1.3" fill="none"/>
<text x="627.4000000000001" y="327.5" font-size="11" font-weight="bold" text-anchor="middle" letter-spacing="1.4" stroke="#111" stroke-width="0.5" stroke-linejoin="round">***</text>
<path d="M649 328.9 H668.3 M649 324.9 V332.9 M668.3 324.9 V332.9" stroke="#111" stroke-width="1.3" fill="none"/>
<text x="658.65" y="324.59999999999997" font-size="8.2" font-style="italic" text-anchor="middle" fill="#3a3a3a" stroke="#3a3a3a" stroke-width="0.15" letter-spacing="-0.45">###</text>
<path d="M607.7 344.1 H627.3 M607.7 340.1 V348.1 M627.3 340.1 V348.1" stroke="#111" stroke-width="1.3" fill="none"/>
<text x="618.2" y="342.70000000000005" font-size="11" font-weight="bold" text-anchor="middle" letter-spacing="1.4" stroke="#111" stroke-width="0.5" stroke-linejoin="round">*</text>
</svg>
</body></html>
